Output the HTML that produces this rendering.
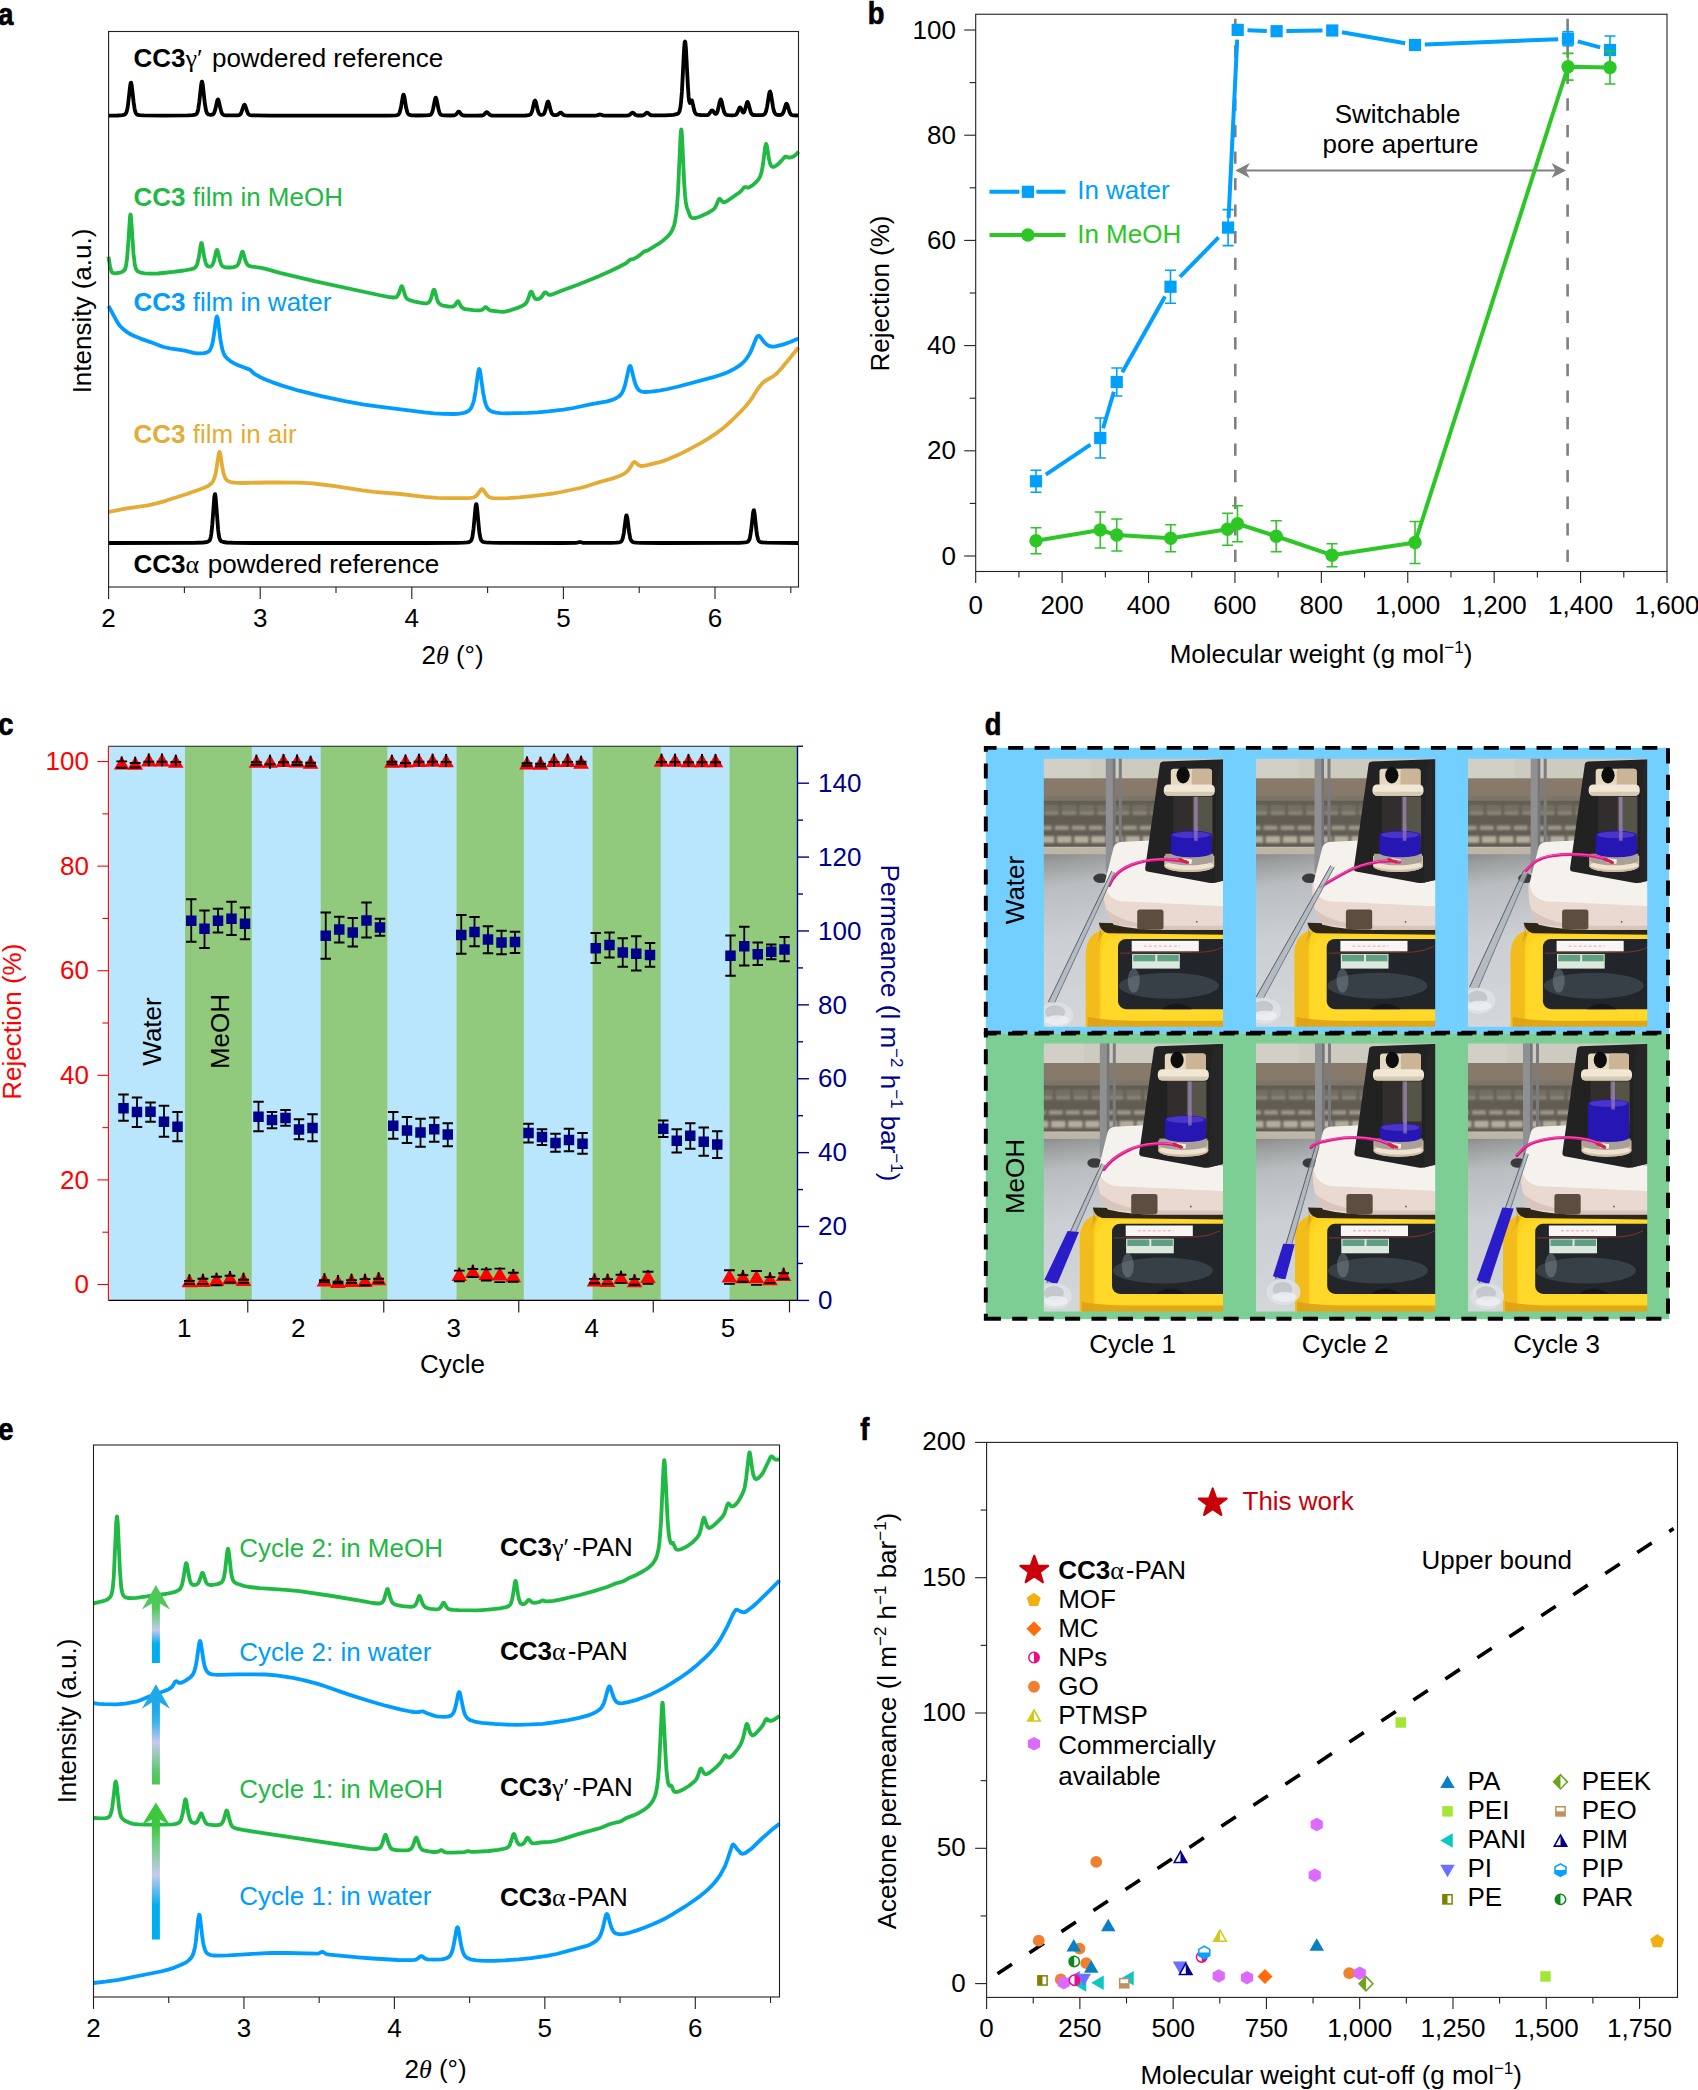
<!DOCTYPE html>
<html lang="en"><head><meta charset="utf-8"><title>Figure</title>
<style>
html,body{margin:0;padding:0;background:#fff;}
body{width:1698px;height:2090px;overflow:hidden;font-family:"Liberation Sans",Arial,Helvetica,sans-serif;}
svg{display:block;}
text{white-space:pre;}
</style></head><body>
<svg width="1698" height="2090" viewBox="0 0 1698 2090">
<rect width="1698" height="2090" fill="#fff"/>
<g id="panel_a">
<path d="M108.6,115.6 117.6,115.5 122.3,115.1 124.6,114.6 125.8,113.5 126.8,111.2 127.6,107.7 128.3,102.3 130.1,86.3 130.6,83.4 130.8,82.8 131.1,82.7 131.3,83.3 131.8,85.9 133.6,101.9 134.6,108.8 135.1,111.0 135.8,113.0 136.6,114.1 137.3,114.6 139.3,115.1 143.6,115.4 162.6,115.6 187.6,115.4 192.6,115.2 195.3,114.7 196.3,114.0 197.1,113.0 197.8,111.0 198.3,108.8 199.3,101.8 201.1,85.3 201.6,82.4 201.8,81.7 202.1,81.7 202.3,82.2 202.8,84.9 204.8,103.4 206.1,110.7 206.8,112.8 207.6,113.9 208.6,114.5 210.3,114.8 212.6,114.5 213.3,114.1 214.1,113.1 215.3,109.4 217.3,100.5 217.8,99.6 218.1,99.5 218.8,101.2 220.6,109.3 221.8,113.1 222.3,113.9 223.1,114.6 224.1,115.1 225.6,115.3 235.8,115.4 238.3,115.3 239.6,114.9 240.6,114.0 241.3,112.7 243.6,105.9 244.1,104.9 244.6,104.7 245.3,105.8 247.1,111.4 248.3,114.0 249.6,115.0 251.8,115.4 270.1,115.7 366.1,115.7 387.9,115.6 395.9,115.3 397.4,115.0 398.4,114.5 399.1,113.6 399.6,112.6 400.9,107.8 402.9,96.0 403.4,94.7 403.6,94.7 404.4,96.9 406.1,107.5 407.4,112.5 408.1,113.9 408.9,114.6 409.9,115.0 411.9,115.3 417.9,115.5 425.6,115.4 429.1,115.2 430.6,114.7 431.6,113.5 432.4,111.7 433.1,108.9 434.9,99.8 435.4,98.1 435.6,97.7 435.9,97.7 436.6,99.6 438.4,108.7 439.6,112.9 440.4,114.2 441.1,114.8 442.1,115.1 443.9,115.3 450.6,115.5 454.4,115.3 455.9,114.6 458.1,111.9 458.9,111.6 459.6,112.1 461.1,114.1 462.1,115.0 463.1,115.4 464.6,115.5 476.6,115.6 482.1,115.5 483.1,115.2 483.9,114.8 486.1,112.4 486.9,112.2 487.6,112.6 489.9,114.9 490.9,115.4 492.1,115.5 518.6,115.6 525.4,115.5 528.6,115.2 530.1,114.6 530.9,113.8 531.4,113.0 532.4,110.0 534.1,102.4 534.6,101.0 535.1,100.6 535.9,102.2 537.6,109.7 538.6,112.7 539.6,114.2 540.4,114.7 541.1,114.9 542.1,114.8 543.1,114.5 543.9,113.8 544.4,113.0 545.4,110.2 547.1,103.2 547.6,101.9 548.1,101.6 548.9,103.1 550.6,110.1 551.6,113.0 552.1,113.9 552.9,114.6 554.6,115.2 556.1,115.2 557.1,115.0 558.1,114.4 559.9,112.8 560.6,112.6 561.4,112.9 562.9,114.4 563.9,115.1 565.1,115.4 567.6,115.6 595.1,115.6 596.9,115.4 599.4,114.6 600.1,114.5 603.1,115.4 604.9,115.6 626.9,115.6 628.4,115.4 629.4,115.0 631.9,112.9 632.6,112.6 633.4,113.0 635.6,115.0 636.6,115.3 637.9,115.5 641.4,115.5 643.1,115.3 644.4,114.7 646.4,112.8 647.1,112.6 647.9,113.0 650.1,114.9 651.9,115.4 664.9,115.4 673.4,114.9 676.6,114.2 677.6,113.8 678.4,113.2 679.1,112.1 679.6,110.9 680.4,107.6 681.1,101.6 681.9,91.9 684.1,48.9 684.6,43.0 684.9,41.7 685.1,41.5 685.4,42.6 685.9,48.1 687.9,86.2 688.6,96.4 689.1,100.5 689.4,101.8 689.9,102.9 690.4,102.6 691.4,100.5 691.6,100.3 691.9,100.4 692.1,100.9 694.4,111.0 695.1,112.9 696.1,114.1 697.6,114.7 700.6,115.0 705.4,115.2 707.6,115.0 708.4,114.7 709.1,114.0 711.4,110.7 712.1,110.3 712.9,110.8 714.9,113.6 715.6,113.9 716.1,113.8 716.9,113.0 717.6,111.2 719.9,101.3 720.4,99.9 720.6,99.5 720.9,99.5 721.6,101.2 723.4,109.3 724.1,111.9 725.1,113.9 726.4,114.8 728.4,115.2 732.1,115.3 734.6,115.1 735.9,114.7 737.1,113.3 739.4,107.9 739.9,107.3 740.1,107.3 740.9,108.2 742.6,112.1 743.1,112.5 743.6,112.5 744.1,111.9 744.9,110.1 746.9,102.8 747.4,102.0 747.6,102.0 748.4,103.4 750.6,111.8 751.4,113.4 752.1,114.4 753.4,115.0 755.6,115.2 760.4,115.2 763.4,114.8 764.1,114.4 764.9,113.8 765.6,112.4 766.1,111.0 767.1,106.6 769.1,94.0 769.6,92.1 769.9,91.7 770.1,91.6 770.9,93.7 772.9,106.3 773.6,109.9 774.6,112.9 775.6,114.2 776.9,114.8 779.1,115.0 780.9,114.9 782.1,114.3 782.9,113.3 783.6,111.7 785.9,104.3 786.4,103.6 786.6,103.6 787.4,104.8 789.6,112.3 790.9,114.4 791.6,114.9 792.9,115.3 798.5,115.5" fill="none" stroke="#000" stroke-width="3.8" stroke-linejoin="round" stroke-linecap="butt" />
<path d="M108.5,256.7 110.0,266.4 111.2,270.6 112.2,272.6 113.5,273.1 115.2,273.3 120.0,272.6 121.8,272.0 123.0,271.4 124.0,270.5 124.8,269.5 125.5,267.7 126.0,265.7 127.0,259.0 128.0,247.2 129.8,219.5 130.2,215.1 130.5,214.5 130.8,215.1 131.2,219.5 133.5,253.9 134.8,264.5 135.8,268.5 136.8,270.3 137.5,271.1 138.5,271.8 141.0,272.7 144.5,273.3 149.5,273.7 153.5,273.7 158.0,273.5 173.5,271.9 184.0,270.5 190.5,269.4 193.8,268.4 195.0,267.6 196.0,266.5 196.8,265.1 197.5,263.0 198.8,257.3 200.8,244.9 201.2,243.2 201.5,243.0 201.8,243.2 202.2,244.8 204.2,256.9 205.5,262.3 206.2,264.3 207.0,265.5 207.8,266.2 208.8,266.6 210.0,266.6 211.0,266.3 212.0,265.4 212.8,264.2 214.0,260.8 216.2,251.2 216.8,250.0 217.0,249.9 217.2,250.0 217.8,251.2 220.0,260.8 220.8,263.1 221.5,264.8 222.5,266.1 223.5,266.8 225.0,267.3 227.0,267.5 230.5,267.5 233.8,267.1 235.8,266.5 237.2,265.5 238.2,264.1 239.0,262.4 241.5,253.5 242.0,252.1 242.5,251.6 242.8,251.7 243.2,252.6 245.2,259.9 246.2,262.6 247.5,264.7 248.2,265.3 249.2,265.9 252.0,266.6 261.2,267.9 264.8,268.6 279.8,272.8 315.5,281.4 381.0,295.5 388.0,296.9 392.8,297.5 394.5,297.5 395.8,297.2 396.8,296.7 397.5,295.9 398.8,293.5 401.0,287.0 401.5,286.2 401.8,286.2 402.2,286.7 402.8,287.9 405.2,295.8 406.2,297.7 407.5,299.1 409.5,300.1 413.5,301.3 419.8,302.7 424.2,303.3 426.2,303.3 427.5,303.1 428.5,302.6 429.5,301.6 430.2,300.3 431.0,298.4 433.2,290.6 433.8,289.7 434.0,289.6 434.2,289.7 434.8,290.7 437.0,299.1 438.2,302.2 439.8,304.1 440.8,304.7 442.2,305.3 445.0,306.0 448.5,306.5 451.2,306.7 453.0,306.5 454.0,306.1 454.8,305.4 457.2,301.7 458.0,301.3 458.8,302.0 460.5,305.5 461.8,307.3 463.2,308.4 465.2,309.1 473.0,310.1 477.5,310.3 480.2,310.3 481.5,310.0 482.5,309.6 485.0,307.4 485.8,307.1 486.5,307.5 489.0,309.8 491.0,310.7 499.8,311.7 502.8,311.8 505.0,311.6 509.0,310.7 517.5,307.9 522.0,306.0 524.8,304.4 526.0,303.2 527.2,301.2 528.2,298.8 530.2,292.7 531.0,291.6 531.2,291.6 531.8,292.0 533.8,296.6 535.0,298.5 536.2,299.2 538.0,299.2 539.5,298.6 541.0,297.5 542.2,296.0 544.2,292.9 545.0,292.3 545.8,292.4 547.8,294.1 549.0,294.8 550.5,294.9 552.2,294.4 562.0,290.5 577.8,284.8 587.8,280.8 598.2,276.4 610.0,271.2 618.8,267.0 625.0,263.8 627.0,262.5 630.0,259.7 633.2,259.1 636.8,257.2 640.2,254.9 643.8,251.6 646.5,250.9 648.2,250.2 658.0,244.2 663.5,240.2 667.8,236.3 669.5,234.4 671.0,232.3 672.2,230.1 673.2,227.8 674.2,224.8 675.0,221.8 676.2,214.0 677.2,203.5 678.0,192.1 680.5,136.7 681.0,130.5 681.2,129.5 681.5,130.1 682.0,135.6 684.2,183.1 685.0,194.4 685.8,202.0 686.8,207.4 688.2,210.9 689.8,215.4 690.2,216.4 691.0,217.4 692.5,218.1 694.0,218.2 695.5,218.0 699.5,216.8 707.8,213.0 712.2,210.4 714.0,208.9 715.2,207.3 716.5,204.8 718.5,199.9 719.2,198.8 720.0,198.9 722.0,201.3 723.0,202.1 724.2,202.3 725.5,201.9 728.2,200.3 739.8,192.2 741.2,190.9 744.2,187.3 745.2,187.0 747.8,187.6 749.5,187.1 752.8,185.1 756.2,182.0 758.0,180.0 759.5,177.7 760.5,175.6 761.5,172.3 763.0,164.4 765.2,146.7 766.0,143.9 766.2,144.0 766.8,145.4 768.8,157.9 769.8,162.5 771.0,165.7 771.8,166.5 772.5,166.9 773.5,166.9 774.8,166.5 777.5,164.7 779.2,163.1 785.0,156.7 786.0,156.6 788.8,157.6 790.5,157.5 792.0,157.1 793.8,156.3 795.2,155.2 797.0,153.6 798.5,151.8" fill="none" stroke="#1fb944" stroke-width="3.8" stroke-linejoin="round" stroke-linecap="butt" />
<path d="M108.5,306.0 117.2,321.9 119.5,325.4 122.0,328.0 124.8,330.4 127.8,332.6 131.0,334.5 134.8,336.3 140.5,338.6 150.5,342.1 159.5,345.6 163.5,347.0 169.8,348.3 184.8,350.6 193.5,352.8 196.8,353.4 201.8,353.4 204.2,353.1 206.2,352.6 207.8,352.0 208.8,351.3 209.8,350.3 210.5,349.1 211.8,345.9 212.8,341.9 214.0,334.4 216.0,319.5 216.5,317.2 216.8,316.6 217.0,316.5 217.5,317.5 218.0,320.1 220.2,338.1 221.8,347.0 222.5,350.0 223.5,353.0 224.5,355.1 225.5,356.6 226.8,358.1 228.5,359.6 231.2,361.7 233.8,363.2 238.8,365.5 249.2,369.4 250.5,370.2 253.5,373.1 255.0,374.2 260.0,377.0 265.2,379.5 272.0,382.1 282.0,385.6 299.0,390.7 321.2,396.2 344.8,401.2 364.0,404.6 386.8,407.7 424.5,412.4 434.2,413.3 443.2,413.8 454.0,414.0 458.0,413.8 461.2,413.4 464.2,412.8 466.8,411.9 468.8,410.7 470.2,409.2 471.2,407.8 472.2,405.7 473.2,402.8 474.0,399.9 475.5,391.6 478.0,373.2 478.8,369.7 479.2,369.0 479.8,369.7 480.2,371.8 483.2,393.2 485.0,401.8 486.0,404.9 487.2,407.6 488.5,409.3 490.2,410.7 492.8,411.8 496.0,412.6 500.2,413.1 505.8,413.3 516.2,413.2 527.5,412.9 537.8,412.3 548.2,411.4 563.5,409.7 573.5,408.0 591.5,404.2 607.2,401.3 612.2,399.9 616.5,398.0 618.8,396.5 620.5,394.9 622.0,392.8 623.2,390.4 624.5,386.9 625.5,383.3 628.8,368.5 629.5,366.5 630.0,365.9 630.5,366.2 631.2,368.0 634.0,379.4 635.5,384.4 637.2,388.1 639.0,390.2 640.2,391.0 641.5,391.5 643.2,391.9 645.2,392.0 651.0,391.7 659.2,390.6 667.8,389.0 678.5,386.5 713.5,377.1 719.5,375.3 724.8,373.4 729.2,371.5 733.5,369.3 737.5,366.9 741.0,364.4 743.8,361.9 746.5,358.6 748.8,355.2 750.8,351.5 756.2,338.3 757.2,336.6 758.2,335.9 759.2,336.0 760.2,336.8 764.2,342.2 766.5,344.4 769.0,345.9 772.0,346.6 774.0,346.6 776.5,346.2 782.8,344.6 790.2,342.0 798.5,338.5" fill="none" stroke="#009cff" stroke-width="3.8" stroke-linejoin="round" stroke-linecap="butt" />
<path d="M108.5,512.0 125.5,508.6 147.8,505.4 156.5,503.4 165.8,500.8 186.0,494.3 201.0,489.0 204.8,487.5 207.8,486.1 210.0,484.6 211.8,483.0 213.0,481.3 214.2,478.5 215.8,472.9 218.5,455.2 219.0,452.9 219.5,452.0 220.0,452.8 220.5,455.0 222.2,466.5 223.2,471.9 224.0,474.8 225.0,477.5 226.2,479.6 228.0,481.1 230.5,482.1 234.0,482.7 242.5,483.0 266.2,482.5 278.5,482.4 296.8,482.7 309.8,483.2 317.8,484.0 334.8,486.1 362.5,490.4 373.8,491.8 400.5,494.0 424.2,496.9 437.0,497.8 449.8,498.2 466.5,498.2 470.8,497.9 473.2,497.5 475.0,496.7 476.5,495.6 478.0,493.8 480.8,489.8 481.5,489.1 482.0,489.0 482.5,489.1 483.2,489.8 487.0,495.2 488.0,496.2 489.2,497.1 490.8,497.7 492.8,498.1 499.2,498.4 508.0,498.1 519.2,497.3 531.8,496.1 544.5,494.7 552.8,493.5 561.5,492.0 580.0,488.0 586.5,486.3 600.0,481.9 613.8,478.1 618.2,476.5 622.2,474.8 625.5,472.9 627.8,470.9 629.8,468.2 632.8,463.2 634.0,462.0 634.5,461.9 635.2,462.2 638.0,464.6 639.5,465.5 641.0,466.0 643.0,466.0 647.2,465.2 657.5,462.7 663.0,461.1 668.0,459.3 677.8,455.1 689.5,449.2 700.8,443.1 710.2,437.4 718.0,432.1 724.0,427.4 731.2,421.0 739.2,413.2 745.0,407.0 750.0,401.0 752.2,397.8 758.2,388.3 761.8,383.9 763.2,382.4 765.0,381.0 773.2,376.3 775.2,374.8 777.2,373.0 781.8,368.0 798.5,347.5" fill="none" stroke="#e5ac35" stroke-width="3.8" stroke-linejoin="round" stroke-linecap="butt" />
<path d="M108.6,543.0 193.3,542.8 203.3,542.5 206.1,542.2 208.1,541.6 209.3,540.7 210.1,539.4 210.8,536.9 211.3,534.0 212.3,524.5 214.3,497.2 214.8,494.2 215.1,494.1 215.3,495.0 215.8,499.3 218.1,529.4 218.6,533.6 219.3,537.7 220.1,539.9 220.6,540.6 221.3,541.3 223.3,542.0 226.6,542.5 235.1,542.8 253.6,543.0 425.1,543.0 457.4,542.8 463.6,542.7 467.6,542.3 469.6,541.8 470.9,540.9 471.6,539.6 472.4,537.1 473.6,528.2 475.6,506.5 476.1,504.1 476.4,504.1 476.6,504.8 477.1,508.2 479.1,530.1 479.6,534.0 480.4,537.9 481.1,540.1 482.1,541.3 483.4,542.0 485.6,542.4 490.9,542.7 500.6,542.9 562.1,543.0 575.6,542.9 577.1,542.7 579.9,542.0 583.4,542.8 586.4,542.9 610.6,542.8 615.9,542.7 619.1,542.3 620.4,542.0 621.4,541.3 622.1,540.1 622.9,537.9 623.9,532.5 625.9,517.1 626.4,515.3 626.6,515.3 627.4,518.2 629.1,532.1 630.1,537.7 630.6,539.4 631.4,540.9 632.4,541.8 633.6,542.3 636.4,542.6 641.1,542.8 662.4,543.0 729.4,542.9 739.6,542.8 744.9,542.4 746.9,542.1 748.1,541.5 749.1,540.2 749.9,538.0 751.1,530.6 753.1,512.4 753.6,510.4 753.9,510.3 754.1,510.9 754.6,513.8 756.4,530.2 757.1,535.4 758.1,539.5 758.6,540.5 759.4,541.4 760.4,542.0 761.6,542.3 766.9,542.7 798.5,543.0" fill="none" stroke="#000" stroke-width="3.8" stroke-linejoin="round" stroke-linecap="butt" />
<rect x="108.6" y="31.5" width="689.9" height="555.5" fill="none" stroke="#231f20" stroke-width="1.1"/>
<line x1="108.6" y1="587.0" x2="108.6" y2="599.0" stroke="#231f20" stroke-width="1.1" />
<text x="108.6" y="627" font-size="26" text-anchor="middle" fill="#000" font-weight="normal" font-family='"Liberation Sans", Arial, Helvetica, sans-serif' >2</text>
<line x1="260.2" y1="587.0" x2="260.2" y2="599.0" stroke="#231f20" stroke-width="1.1" />
<text x="260.2" y="627" font-size="26" text-anchor="middle" fill="#000" font-weight="normal" font-family='"Liberation Sans", Arial, Helvetica, sans-serif' >3</text>
<line x1="411.79999999999995" y1="587.0" x2="411.79999999999995" y2="599.0" stroke="#231f20" stroke-width="1.1" />
<text x="411.8" y="627" font-size="26" text-anchor="middle" fill="#000" font-weight="normal" font-family='"Liberation Sans", Arial, Helvetica, sans-serif' >4</text>
<line x1="563.4" y1="587.0" x2="563.4" y2="599.0" stroke="#231f20" stroke-width="1.1" />
<text x="563.4" y="627" font-size="26" text-anchor="middle" fill="#000" font-weight="normal" font-family='"Liberation Sans", Arial, Helvetica, sans-serif' >5</text>
<line x1="715.0" y1="587.0" x2="715.0" y2="599.0" stroke="#231f20" stroke-width="1.1" />
<text x="715.0" y="627" font-size="26" text-anchor="middle" fill="#000" font-weight="normal" font-family='"Liberation Sans", Arial, Helvetica, sans-serif' >6</text>
<line x1="184.39999999999998" y1="587.0" x2="184.39999999999998" y2="593.0" stroke="#231f20" stroke-width="1.1" />
<line x1="336.0" y1="587.0" x2="336.0" y2="593.0" stroke="#231f20" stroke-width="1.1" />
<line x1="487.6" y1="587.0" x2="487.6" y2="593.0" stroke="#231f20" stroke-width="1.1" />
<line x1="639.2" y1="587.0" x2="639.2" y2="593.0" stroke="#231f20" stroke-width="1.1" />
<line x1="790.8" y1="587.0" x2="790.8" y2="593.0" stroke="#231f20" stroke-width="1.1" />
<text x="133.5" y="67" font-size="26" text-anchor="start" fill="#000" font-weight="normal" font-family='"Liberation Sans", Arial, Helvetica, sans-serif' ><tspan font-weight="bold">CC3</tspan><tspan font-family='"Liberation Serif", "DejaVu Serif", serif' font-weight="normal">γ′</tspan><tspan dx="2"> powdered reference</tspan></text>
<text x="133.5" y="206" font-size="26" text-anchor="start" fill="#1fb944" font-weight="normal" font-family='"Liberation Sans", Arial, Helvetica, sans-serif' ><tspan font-weight="bold">CC3</tspan> film in MeOH</text>
<text x="133.5" y="311" font-size="26" text-anchor="start" fill="#009cff" font-weight="normal" font-family='"Liberation Sans", Arial, Helvetica, sans-serif' ><tspan font-weight="bold">CC3</tspan> film in water</text>
<text x="133.5" y="443" font-size="26" text-anchor="start" fill="#e5ac35" font-weight="normal" font-family='"Liberation Sans", Arial, Helvetica, sans-serif' ><tspan font-weight="bold">CC3</tspan> film in air</text>
<text x="133.5" y="573" font-size="26" text-anchor="start" fill="#000" font-weight="normal" font-family='"Liberation Sans", Arial, Helvetica, sans-serif' ><tspan font-weight="bold">CC3</tspan><tspan font-family='"Liberation Serif", "DejaVu Serif", serif' font-weight="normal">α</tspan><tspan dx="1.5"> powdered reference</tspan></text>
<text transform="translate(91,311) rotate(-90)" font-size="26" text-anchor="middle" fill="#000" font-family='"Liberation Sans", Arial, Helvetica, sans-serif' >Intensity (a.u.)</text>
<text x="452.5" y="664.2" font-size="26" text-anchor="middle" fill="#000" font-weight="normal" font-family='"Liberation Sans", Arial, Helvetica, sans-serif' >2<tspan font-family='"Liberation Serif", "DejaVu Serif", serif' font-style="italic">θ</tspan> (°)</text>
<text transform="translate(-1.8,24.5) scale(0.88,1)" font-size="31" font-weight="bold" stroke="#000" stroke-width="0.7" font-family='"Liberation Sans", Arial, Helvetica, sans-serif'>a</text>
</g>
<g id="panel_b">
<line x1="1235.3" y1="18.7" x2="1235.3" y2="563.8" stroke="#808080" stroke-width="2.6" stroke-dasharray="12.3 14.25"/>
<line x1="1567.6" y1="18.7" x2="1567.6" y2="563.8" stroke="#808080" stroke-width="2.6" stroke-dasharray="12.3 14.25"/>
<line x1="1244" y1="170.5" x2="1557" y2="170.5" stroke="#808080" stroke-width="2"/>
<path d="M1235.3,170.5 l14.5,-7.6 l-4,7.6 l4,7.6z" fill="#808080"/>
<path d="M1566,170.5 l-14.5,-7.6 l4,7.6 l-4,7.6z" fill="#808080"/>
<line x1="1045.8" y1="474.7" x2="1090.5" y2="444.6" stroke="#00a0fc" stroke-width="4"/>
<line x1="1103.1" y1="428.2" x2="1113.9" y2="391.8" stroke="#00a0fc" stroke-width="4"/>
<line x1="1122.3" y1="372.2" x2="1165.0" y2="296.6" stroke="#00a0fc" stroke-width="4"/>
<line x1="1180.0" y1="276.9" x2="1218.6" y2="237.4" stroke="#00a0fc" stroke-width="4"/>
<line x1="1228.6" y1="217.8" x2="1237.2" y2="39.7" stroke="#00a0fc" stroke-width="4"/>
<line x1="1247.5" y1="30.2" x2="1266.8" y2="30.9" stroke="#00a0fc" stroke-width="4"/>
<line x1="1286.4" y1="31.1" x2="1322.5" y2="30.6" stroke="#00a0fc" stroke-width="4"/>
<line x1="1342.0" y1="32.2" x2="1405.2" y2="43.3" stroke="#00a0fc" stroke-width="4"/>
<line x1="1424.8" y1="44.6" x2="1558.2" y2="39.2" stroke="#00a0fc" stroke-width="4"/>
<line x1="1577.8" y1="41.4" x2="1600.2" y2="47.4" stroke="#00a0fc" stroke-width="4"/>
<path d="M1036,470.25V492.25M1030.5,470.25h11M1030.5,492.25h11" stroke="#00a0fc" stroke-width="1.6" fill="none"/>
<path d="M1100.25,418V458M1094.75,418h11M1094.75,458h11" stroke="#00a0fc" stroke-width="1.6" fill="none"/>
<path d="M1116.75,368V396M1111.25,368h11M1111.25,396h11" stroke="#00a0fc" stroke-width="1.6" fill="none"/>
<path d="M1170.5,270.25V303.25M1165.0,270.25h11M1165.0,303.25h11" stroke="#00a0fc" stroke-width="1.6" fill="none"/>
<path d="M1228.1,209.6V245.6M1222.6,209.6h11M1222.6,245.6h11" stroke="#00a0fc" stroke-width="1.6" fill="none"/>




<path d="M1568,31.75V45.75M1562.5,31.75h11M1562.5,45.75h11" stroke="#00a0fc" stroke-width="1.6" fill="none"/>
<path d="M1610,36V64M1604.5,36h11M1604.5,64h11" stroke="#00a0fc" stroke-width="1.6" fill="none"/>
<rect x="1029.9" y="475.15" width="12.2" height="12.2" fill="#00a0fc"/>
<rect x="1094.15" y="431.9" width="12.2" height="12.2" fill="#00a0fc"/>
<rect x="1110.65" y="375.9" width="12.2" height="12.2" fill="#00a0fc"/>
<rect x="1164.4" y="280.65" width="12.2" height="12.2" fill="#00a0fc"/>
<rect x="1222.0" y="221.5" width="12.2" height="12.2" fill="#00a0fc"/>
<rect x="1231.6000000000001" y="23.799999999999997" width="12.2" height="12.2" fill="#00a0fc"/>
<rect x="1270.5" y="25.1" width="12.2" height="12.2" fill="#00a0fc"/>
<rect x="1326.15" y="24.4" width="12.2" height="12.2" fill="#00a0fc"/>
<rect x="1408.9" y="38.9" width="12.2" height="12.2" fill="#00a0fc"/>
<rect x="1561.9" y="32.65" width="12.2" height="12.2" fill="#00a0fc"/>
<rect x="1603.9" y="43.9" width="12.2" height="12.2" fill="#00a0fc"/>
<polyline points="1036,540.75 1100.25,530 1116.75,535 1170.75,538.25 1227.5,529.25 1237.5,523.75 1276.25,536.25 1332,555.2 1415,542.5 1568,66.75 1610,67.5" fill="none" stroke="#2cc625" stroke-width="4" stroke-linejoin="round"/>
<path d="M1036,527.75V553.75M1030.5,527.75h11M1030.5,553.75h11" stroke="#2cc625" stroke-width="1.6" fill="none"/>
<path d="M1100.25,512V548M1094.75,512h11M1094.75,548h11" stroke="#2cc625" stroke-width="1.6" fill="none"/>
<path d="M1116.75,519V551M1111.25,519h11M1111.25,551h11" stroke="#2cc625" stroke-width="1.6" fill="none"/>
<path d="M1170.75,524.75V551.75M1165.25,524.75h11M1165.25,551.75h11" stroke="#2cc625" stroke-width="1.6" fill="none"/>
<path d="M1227.5,513.25V545.25M1222.0,513.25h11M1222.0,545.25h11" stroke="#2cc625" stroke-width="1.6" fill="none"/>
<path d="M1237.5,505.75V541.75M1232.0,505.75h11M1232.0,541.75h11" stroke="#2cc625" stroke-width="1.6" fill="none"/>
<path d="M1276.25,520.75V551.75M1270.75,520.75h11M1270.75,551.75h11" stroke="#2cc625" stroke-width="1.6" fill="none"/>
<path d="M1332,543.7V566.7M1326.5,543.7h11M1326.5,566.7h11" stroke="#2cc625" stroke-width="1.6" fill="none"/>
<path d="M1415,521.5V563.5M1409.5,521.5h11M1409.5,563.5h11" stroke="#2cc625" stroke-width="1.6" fill="none"/>
<path d="M1568,53.35V80.15M1562.5,53.35h11M1562.5,80.15h11" stroke="#2cc625" stroke-width="1.6" fill="none"/>
<path d="M1610,51.0V84.0M1604.5,51.0h11M1604.5,84.0h11" stroke="#2cc625" stroke-width="1.6" fill="none"/>
<circle cx="1036" cy="540.75" r="6.7" fill="#2cc625"/>
<circle cx="1100.25" cy="530" r="6.7" fill="#2cc625"/>
<circle cx="1116.75" cy="535" r="6.7" fill="#2cc625"/>
<circle cx="1170.75" cy="538.25" r="6.7" fill="#2cc625"/>
<circle cx="1227.5" cy="529.25" r="6.7" fill="#2cc625"/>
<circle cx="1237.5" cy="523.75" r="6.7" fill="#2cc625"/>
<circle cx="1276.25" cy="536.25" r="6.7" fill="#2cc625"/>
<circle cx="1332" cy="555.2" r="6.7" fill="#2cc625"/>
<circle cx="1415" cy="542.5" r="6.7" fill="#2cc625"/>
<circle cx="1568" cy="66.75" r="6.7" fill="#2cc625"/>
<circle cx="1610" cy="67.5" r="6.7" fill="#2cc625"/>
<rect x="975.7" y="14.25" width="691.3" height="557.25" fill="none" stroke="#231f20" stroke-width="1.1"/>
<line x1="975.7" y1="571.5" x2="975.7" y2="583.0" stroke="#231f20" stroke-width="1.1" />
<text x="975.7" y="613.5" font-size="26" text-anchor="middle" fill="#000" font-weight="normal" font-family='"Liberation Sans", Arial, Helvetica, sans-serif' >0</text>
<line x1="1018.91" y1="571.5" x2="1018.91" y2="577.5" stroke="#231f20" stroke-width="1.1" />
<line x1="1062.11" y1="571.5" x2="1062.11" y2="583.0" stroke="#231f20" stroke-width="1.1" />
<text x="1062.1" y="613.5" font-size="26" text-anchor="middle" fill="#000" font-weight="normal" font-family='"Liberation Sans", Arial, Helvetica, sans-serif' >200</text>
<line x1="1105.32" y1="571.5" x2="1105.32" y2="577.5" stroke="#231f20" stroke-width="1.1" />
<line x1="1148.52" y1="571.5" x2="1148.52" y2="583.0" stroke="#231f20" stroke-width="1.1" />
<text x="1148.5" y="613.5" font-size="26" text-anchor="middle" fill="#000" font-weight="normal" font-family='"Liberation Sans", Arial, Helvetica, sans-serif' >400</text>
<line x1="1191.73" y1="571.5" x2="1191.73" y2="577.5" stroke="#231f20" stroke-width="1.1" />
<line x1="1234.94" y1="571.5" x2="1234.94" y2="583.0" stroke="#231f20" stroke-width="1.1" />
<text x="1234.9" y="613.5" font-size="26" text-anchor="middle" fill="#000" font-weight="normal" font-family='"Liberation Sans", Arial, Helvetica, sans-serif' >600</text>
<line x1="1278.14" y1="571.5" x2="1278.14" y2="577.5" stroke="#231f20" stroke-width="1.1" />
<line x1="1321.35" y1="571.5" x2="1321.35" y2="583.0" stroke="#231f20" stroke-width="1.1" />
<text x="1321.3" y="613.5" font-size="26" text-anchor="middle" fill="#000" font-weight="normal" font-family='"Liberation Sans", Arial, Helvetica, sans-serif' >800</text>
<line x1="1364.55" y1="571.5" x2="1364.55" y2="577.5" stroke="#231f20" stroke-width="1.1" />
<line x1="1407.76" y1="571.5" x2="1407.76" y2="583.0" stroke="#231f20" stroke-width="1.1" />
<text x="1407.8" y="613.5" font-size="26" text-anchor="middle" fill="#000" font-weight="normal" font-family='"Liberation Sans", Arial, Helvetica, sans-serif' >1,000</text>
<line x1="1450.97" y1="571.5" x2="1450.97" y2="577.5" stroke="#231f20" stroke-width="1.1" />
<line x1="1494.17" y1="571.5" x2="1494.17" y2="583.0" stroke="#231f20" stroke-width="1.1" />
<text x="1494.2" y="613.5" font-size="26" text-anchor="middle" fill="#000" font-weight="normal" font-family='"Liberation Sans", Arial, Helvetica, sans-serif' >1,200</text>
<line x1="1537.38" y1="571.5" x2="1537.38" y2="577.5" stroke="#231f20" stroke-width="1.1" />
<line x1="1580.58" y1="571.5" x2="1580.58" y2="583.0" stroke="#231f20" stroke-width="1.1" />
<text x="1580.6" y="613.5" font-size="26" text-anchor="middle" fill="#000" font-weight="normal" font-family='"Liberation Sans", Arial, Helvetica, sans-serif' >1,400</text>
<line x1="1623.79" y1="571.5" x2="1623.79" y2="577.5" stroke="#231f20" stroke-width="1.1" />
<line x1="1667.0" y1="571.5" x2="1667.0" y2="583.0" stroke="#231f20" stroke-width="1.1" />
<text x="1667.0" y="613.5" font-size="26" text-anchor="middle" fill="#000" font-weight="normal" font-family='"Liberation Sans", Arial, Helvetica, sans-serif' >1,600</text>
<line x1="964.2" y1="556.0" x2="975.7" y2="556.0" stroke="#231f20" stroke-width="1.1" />
<text x="956" y="564.6" font-size="26" text-anchor="end" fill="#000" font-weight="normal" font-family='"Liberation Sans", Arial, Helvetica, sans-serif' >0</text>
<line x1="969.7" y1="503.4" x2="975.7" y2="503.4" stroke="#231f20" stroke-width="1.1" />
<line x1="964.2" y1="450.8" x2="975.7" y2="450.8" stroke="#231f20" stroke-width="1.1" />
<text x="956" y="459.4" font-size="26" text-anchor="end" fill="#000" font-weight="normal" font-family='"Liberation Sans", Arial, Helvetica, sans-serif' >20</text>
<line x1="969.7" y1="398.20000000000005" x2="975.7" y2="398.20000000000005" stroke="#231f20" stroke-width="1.1" />
<line x1="964.2" y1="345.6" x2="975.7" y2="345.6" stroke="#231f20" stroke-width="1.1" />
<text x="956" y="354.2" font-size="26" text-anchor="end" fill="#000" font-weight="normal" font-family='"Liberation Sans", Arial, Helvetica, sans-serif' >40</text>
<line x1="969.7" y1="293.0" x2="975.7" y2="293.0" stroke="#231f20" stroke-width="1.1" />
<line x1="964.2" y1="240.40000000000003" x2="975.7" y2="240.40000000000003" stroke="#231f20" stroke-width="1.1" />
<text x="956" y="249.0" font-size="26" text-anchor="end" fill="#000" font-weight="normal" font-family='"Liberation Sans", Arial, Helvetica, sans-serif' >60</text>
<line x1="969.7" y1="187.8" x2="975.7" y2="187.8" stroke="#231f20" stroke-width="1.1" />
<line x1="964.2" y1="135.20000000000005" x2="975.7" y2="135.20000000000005" stroke="#231f20" stroke-width="1.1" />
<text x="956" y="143.8" font-size="26" text-anchor="end" fill="#000" font-weight="normal" font-family='"Liberation Sans", Arial, Helvetica, sans-serif' >80</text>
<line x1="969.7" y1="82.60000000000002" x2="975.7" y2="82.60000000000002" stroke="#231f20" stroke-width="1.1" />
<line x1="964.2" y1="30.0" x2="975.7" y2="30.0" stroke="#231f20" stroke-width="1.1" />
<text x="956" y="38.6" font-size="26" text-anchor="end" fill="#000" font-weight="normal" font-family='"Liberation Sans", Arial, Helvetica, sans-serif' >100</text>
<path d="M989.5,191.8H1019.4M1036.4,191.8H1065.5" stroke="#00a0fc" stroke-width="3.9"/>
<rect x="1021.8" y="185.7" width="12.2" height="12.2" fill="#00a0fc"/>
<text x="1077.2" y="199.25" font-size="26" text-anchor="start" fill="#00a0fc" font-weight="normal" font-family='"Liberation Sans", Arial, Helvetica, sans-serif' >In water</text>
<path d="M989.5,235H1065.5" stroke="#2cc625" stroke-width="3.9"/>
<circle cx="1027.9" cy="235" r="6.7" fill="#2cc625"/>
<text x="1077.2" y="242.5" font-size="26" text-anchor="start" fill="#2cc625" font-weight="normal" font-family='"Liberation Sans", Arial, Helvetica, sans-serif' >In MeOH</text>
<text x="1397.5" y="122.5" font-size="26" text-anchor="middle" fill="#000" font-weight="normal" font-family='"Liberation Sans", Arial, Helvetica, sans-serif' >Switchable</text>
<text x="1400.5" y="153" font-size="26" text-anchor="middle" fill="#000" font-weight="normal" font-family='"Liberation Sans", Arial, Helvetica, sans-serif' >pore aperture</text>
<text x="1321" y="663" font-size="26" text-anchor="middle" fill="#000" font-weight="normal" font-family='"Liberation Sans", Arial, Helvetica, sans-serif' >Molecular weight (g mol<tspan dy="-10" font-size="17">−1</tspan><tspan dy="10">)</tspan></text>
<text transform="translate(889,293.5) rotate(-90)" font-size="26" text-anchor="middle" fill="#000" font-family='"Liberation Sans", Arial, Helvetica, sans-serif' >Rejection (%)</text>
<text transform="translate(867.7,23.75) scale(0.88,1)" font-size="31" font-weight="bold" stroke="#000" stroke-width="0.7" font-family='"Liberation Sans", Arial, Helvetica, sans-serif'>b</text>
</g>
<g id="panel_c">
<rect x="108.4" y="746.25" width="76.89999999999999" height="554.1500000000001" fill="#b9e5fd"/>
<rect x="185" y="746.25" width="67.05" height="554.1500000000001" fill="#91c97d"/>
<rect x="251.75" y="746.25" width="69.3" height="554.1500000000001" fill="#b9e5fd"/>
<rect x="320.75" y="746.25" width="67.05" height="554.1500000000001" fill="#91c97d"/>
<rect x="387.5" y="746.25" width="69.3" height="554.1500000000001" fill="#b9e5fd"/>
<rect x="456.5" y="746.25" width="67.55" height="554.1500000000001" fill="#91c97d"/>
<rect x="523.75" y="746.25" width="69.05" height="554.1500000000001" fill="#b9e5fd"/>
<rect x="592.5" y="746.25" width="68.55" height="554.1500000000001" fill="#91c97d"/>
<rect x="660.75" y="746.25" width="69.05" height="554.1500000000001" fill="#b9e5fd"/>
<rect x="729.5" y="746.25" width="68.3" height="554.1500000000001" fill="#91c97d"/>
<path d="M121.7,756L129.5,769.6H113.9Z" fill="#ff0000"/>
<path d="M135.2,756.25L143.0,769.85H127.39999999999999Z" fill="#ff0000"/>
<path d="M148.8,752.9L156.60000000000002,766.5H141.0Z" fill="#ff0000"/>
<path d="M162,752.9L169.8,766.5H154.2Z" fill="#ff0000"/>
<path d="M175.8,754.2L183.60000000000002,767.8000000000001H168.0Z" fill="#ff0000"/>
<path d="M256.4,754.2L264.2,767.8000000000001H248.59999999999997Z" fill="#ff0000"/>
<path d="M270,754.2L277.8,767.8000000000001H262.2Z" fill="#ff0000"/>
<path d="M283.5,753.5L291.3,767.1H275.7Z" fill="#ff0000"/>
<path d="M297.1,754L304.90000000000003,767.6H289.3Z" fill="#ff0000"/>
<path d="M310.6,755.2L318.40000000000003,768.8000000000001H302.8Z" fill="#ff0000"/>
<path d="M391.9,754.2L399.7,767.8000000000001H384.09999999999997Z" fill="#ff0000"/>
<path d="M405.5,754L413.3,767.6H397.7Z" fill="#ff0000"/>
<path d="M419,753.3L426.8,766.9H411.2Z" fill="#ff0000"/>
<path d="M432.6,753.2L440.40000000000003,766.8000000000001H424.8Z" fill="#ff0000"/>
<path d="M446.1,753.6L453.90000000000003,767.2H438.3Z" fill="#ff0000"/>
<path d="M527,756L534.8,769.6H519.2Z" fill="#ff0000"/>
<path d="M540.5,756.25L548.3,769.85H532.7Z" fill="#ff0000"/>
<path d="M554,753.3L561.8,766.9H546.2Z" fill="#ff0000"/>
<path d="M567.6,753.3L575.4,766.9H559.8000000000001Z" fill="#ff0000"/>
<path d="M581.1,755.2L588.9,768.8000000000001H573.3000000000001Z" fill="#ff0000"/>
<path d="M661.5,753.2L669.3,766.8000000000001H653.7Z" fill="#ff0000"/>
<path d="M675,753.2L682.8,766.8000000000001H667.2Z" fill="#ff0000"/>
<path d="M688.5,753.6L696.3,767.2H680.7Z" fill="#ff0000"/>
<path d="M702,753.6L709.8,767.2H694.2Z" fill="#ff0000"/>
<path d="M715.5,753.6L723.3,767.2H707.7Z" fill="#ff0000"/>
<path d="M189.4,1273.7L197.20000000000002,1287.3H181.6Z" fill="#ff0000"/>
<path d="M202.9,1273.3L210.70000000000002,1286.8999999999999H195.1Z" fill="#ff0000"/>
<path d="M216.5,1272.3L224.3,1285.8999999999999H208.7Z" fill="#ff0000"/>
<path d="M230,1270.6L237.8,1284.1999999999998H222.2Z" fill="#ff0000"/>
<path d="M243.5,1272.3L251.3,1285.8999999999999H235.7Z" fill="#ff0000"/>
<path d="M324.4,1272.8L332.2,1286.3999999999999H316.59999999999997Z" fill="#ff0000"/>
<path d="M338,1274.4L345.8,1288.0H330.2Z" fill="#ff0000"/>
<path d="M351.5,1273.3L359.3,1286.8999999999999H343.7Z" fill="#ff0000"/>
<path d="M365,1273.3L372.8,1286.8999999999999H357.2Z" fill="#ff0000"/>
<path d="M378.6,1271.7L386.40000000000003,1285.3H370.8Z" fill="#ff0000"/>
<path d="M459.3,1267.3L467.1,1280.8999999999999H451.5Z" fill="#ff0000"/>
<path d="M472.8,1264.2L480.6,1277.8H465.0Z" fill="#ff0000"/>
<path d="M486.3,1266.5L494.1,1280.1H478.5Z" fill="#ff0000"/>
<path d="M499.8,1267L507.6,1280.6H492.0Z" fill="#ff0000"/>
<path d="M513.3,1268.6L521.0999999999999,1282.1999999999998H505.49999999999994Z" fill="#ff0000"/>
<path d="M594.5,1273L602.3,1286.6H586.7Z" fill="#ff0000"/>
<path d="M607.6,1273.3L615.4,1286.8999999999999H599.8000000000001Z" fill="#ff0000"/>
<path d="M621,1270.3L628.8,1283.8999999999999H613.2Z" fill="#ff0000"/>
<path d="M634.5,1273.7L642.3,1287.3H626.7Z" fill="#ff0000"/>
<path d="M648,1269.4L655.8,1283.0H640.2Z" fill="#ff0000"/>
<path d="M729.4,1269L737.1999999999999,1282.6H721.6Z" fill="#ff0000"/>
<path d="M742.9,1269.6L750.6999999999999,1283.1999999999998H735.1Z" fill="#ff0000"/>
<path d="M756.5,1269.6L764.3,1283.1999999999998H748.7Z" fill="#ff0000"/>
<path d="M770,1271.7L777.8,1285.3H762.2Z" fill="#ff0000"/>
<path d="M783.6,1267.3L791.4,1280.8999999999999H775.8000000000001Z" fill="#ff0000"/>
<path d="M121.7,756.5V761.4M116.3,761.4h10.8M116.3,767.8h10.8" stroke="#000" stroke-width="1.9" fill="none"/>
<path d="M135.2,756.75V763M129.79999999999998,763h10.8M129.79999999999998,767.5h10.8" stroke="#000" stroke-width="1.9" fill="none"/>
<path d="M148.8,753.4V766.2M143.4,761.7h10.8" stroke="#000" stroke-width="1.9" fill="none"/>
<path d="M162,753.4V766.2M156.6,761.7h10.8" stroke="#000" stroke-width="1.9" fill="none"/>
<path d="M175.8,754.7V766.5M170.4,762h10.8" stroke="#000" stroke-width="1.9" fill="none"/>
<path d="M256.4,754.7V762.1M250.99999999999997,762.1h10.8M250.99999999999997,764.8h10.8" stroke="#000" stroke-width="1.9" fill="none"/>
<path d="M270,754.7V768.7M264.6,764.2h10.8" stroke="#000" stroke-width="1.9" fill="none"/>
<path d="M283.5,754.0V766.8M278.1,762.3h10.8" stroke="#000" stroke-width="1.9" fill="none"/>
<path d="M297.1,754.5V762.3M291.70000000000005,762.3h10.8M291.70000000000005,765h10.8" stroke="#000" stroke-width="1.9" fill="none"/>
<path d="M310.6,755.7V762.8M305.20000000000005,762.8h10.8M305.20000000000005,765.7h10.8" stroke="#000" stroke-width="1.9" fill="none"/>
<path d="M391.9,754.7V761.7M386.5,761.7h10.8M386.5,764.4h10.8" stroke="#000" stroke-width="1.9" fill="none"/>
<path d="M405.5,754.5V767.5M400.1,763h10.8" stroke="#000" stroke-width="1.9" fill="none"/>
<path d="M419,753.8V766.2M413.6,761.7h10.8" stroke="#000" stroke-width="1.9" fill="none"/>
<path d="M432.6,753.7V766.2M427.20000000000005,761.7h10.8" stroke="#000" stroke-width="1.9" fill="none"/>
<path d="M446.1,754.1V766.5M440.70000000000005,762h10.8" stroke="#000" stroke-width="1.9" fill="none"/>
<path d="M527,756.5V763.3M521.6,763.3h10.8M521.6,765.7h10.8" stroke="#000" stroke-width="1.9" fill="none"/>
<path d="M540.5,756.75V763.7M535.1,763.7h10.8M535.1,766.4h10.8" stroke="#000" stroke-width="1.9" fill="none"/>
<path d="M554,753.8V766.5M548.6,762h10.8" stroke="#000" stroke-width="1.9" fill="none"/>
<path d="M567.6,753.8V766.5M562.2,762h10.8" stroke="#000" stroke-width="1.9" fill="none"/>
<path d="M581.1,755.7V761.7M575.7,761.7h10.8M575.7,764.1h10.8" stroke="#000" stroke-width="1.9" fill="none"/>
<path d="M661.5,753.7V766.5M656.1,762h10.8" stroke="#000" stroke-width="1.9" fill="none"/>
<path d="M675,753.7V766.5M669.6,762h10.8" stroke="#000" stroke-width="1.9" fill="none"/>
<path d="M688.5,754.1V766.7M683.1,762.2h10.8" stroke="#000" stroke-width="1.9" fill="none"/>
<path d="M702,754.1V766.7M696.6,762.2h10.8" stroke="#000" stroke-width="1.9" fill="none"/>
<path d="M715.5,754.1V766.7M710.1,762.2h10.8" stroke="#000" stroke-width="1.9" fill="none"/>
<path d="M189.4,1274.2V1280.9M184.0,1280.9h10.8M184.0,1284.1h10.8" stroke="#000" stroke-width="1.9" fill="none"/>
<path d="M202.9,1273.8V1278.8M197.5,1278.8h10.8M197.5,1283.9h10.8" stroke="#000" stroke-width="1.9" fill="none"/>
<path d="M216.5,1272.8V1276.7M211.1,1276.7h10.8M211.1,1285.2h10.8" stroke="#000" stroke-width="1.9" fill="none"/>
<path d="M230,1271.1V1275.7M224.6,1275.7h10.8M224.6,1282.5h10.8" stroke="#000" stroke-width="1.9" fill="none"/>
<path d="M243.5,1272.8V1279.8M238.1,1279.8h10.8M238.1,1282.9h10.8" stroke="#000" stroke-width="1.9" fill="none"/>
<path d="M324.4,1273.3V1280.1M319.0,1280.1h10.8M319.0,1282.1h10.8" stroke="#000" stroke-width="1.9" fill="none"/>
<path d="M338,1274.9V1281.8M332.6,1281.8h10.8M332.6,1283.2h10.8" stroke="#000" stroke-width="1.9" fill="none"/>
<path d="M351.5,1273.8V1280.1M346.1,1280.1h10.8M346.1,1282.9h10.8" stroke="#000" stroke-width="1.9" fill="none"/>
<path d="M365,1273.8V1279.1M359.6,1279.1h10.8M359.6,1285.2h10.8" stroke="#000" stroke-width="1.9" fill="none"/>
<path d="M378.6,1272.2V1278.8M373.20000000000005,1278.8h10.8M373.20000000000005,1282.5h10.8" stroke="#000" stroke-width="1.9" fill="none"/>
<path d="M459.3,1267.8V1270.6M453.90000000000003,1270.6h10.8M453.90000000000003,1281.2h10.8" stroke="#000" stroke-width="1.9" fill="none"/>
<path d="M472.8,1264.7V1269M467.40000000000003,1269h10.8M467.40000000000003,1277h10.8" stroke="#000" stroke-width="1.9" fill="none"/>
<path d="M486.3,1267.0V1269.4M480.90000000000003,1269.4h10.8M480.90000000000003,1280.5h10.8" stroke="#000" stroke-width="1.9" fill="none"/>
<path d="M499.8,1267.5V1268.6M494.40000000000003,1268.6h10.8M494.40000000000003,1282.1h10.8" stroke="#000" stroke-width="1.9" fill="none"/>
<path d="M513.3,1269.1V1272.8M507.9,1272.8h10.8M507.9,1281.8h10.8" stroke="#000" stroke-width="1.9" fill="none"/>
<path d="M594.5,1273.5V1278.9M589.1,1278.9h10.8M589.1,1283.2h10.8" stroke="#000" stroke-width="1.9" fill="none"/>
<path d="M607.6,1273.8V1279.1M602.2,1279.1h10.8M602.2,1283.9h10.8" stroke="#000" stroke-width="1.9" fill="none"/>
<path d="M621,1270.8V1274.7M615.6,1274.7h10.8M615.6,1282.9h10.8" stroke="#000" stroke-width="1.9" fill="none"/>
<path d="M634.5,1274.2V1279.1M629.1,1279.1h10.8M629.1,1284.8h10.8" stroke="#000" stroke-width="1.9" fill="none"/>
<path d="M648,1269.9V1271.7M642.6,1271.7h10.8M642.6,1283.9h10.8" stroke="#000" stroke-width="1.9" fill="none"/>
<path d="M729.4,1269.5V1270.3M724.0,1270.3h10.8M724.0,1283.9h10.8" stroke="#000" stroke-width="1.9" fill="none"/>
<path d="M742.9,1270.1V1275.1M737.5,1275.1h10.8M737.5,1281.8h10.8" stroke="#000" stroke-width="1.9" fill="none"/>
<path d="M756.5,1270.1V1271M751.1,1271h10.8M751.1,1284.9h10.8" stroke="#000" stroke-width="1.9" fill="none"/>
<path d="M770,1272.2V1277.1M764.6,1277.1h10.8M764.6,1282.9h10.8" stroke="#000" stroke-width="1.9" fill="none"/>
<path d="M783.6,1267.8V1273.3M778.2,1273.3h10.8M778.2,1278.8h10.8" stroke="#000" stroke-width="1.9" fill="none"/>
<path d="M123.5,1094.5V1120.75M118.25,1094.5h10.5M118.25,1120.75h10.5" stroke="#000" stroke-width="1.8" fill="none"/>
<rect x="118.25" y="1103.0" width="10.5" height="10.5" fill="#00008b"/>
<path d="M137.0,1097.5V1127.0M131.75,1097.5h10.5M131.75,1127.0h10.5" stroke="#000" stroke-width="1.8" fill="none"/>
<rect x="131.75" y="1106.75" width="10.5" height="10.5" fill="#00008b"/>
<path d="M150.5,1102.5V1121.75M145.25,1102.5h10.5M145.25,1121.75h10.5" stroke="#000" stroke-width="1.8" fill="none"/>
<rect x="145.25" y="1106.5" width="10.5" height="10.5" fill="#00008b"/>
<path d="M164.0,1105.75V1136.75M158.75,1105.75h10.5M158.75,1136.75h10.5" stroke="#000" stroke-width="1.8" fill="none"/>
<rect x="158.75" y="1116.5" width="10.5" height="10.5" fill="#00008b"/>
<path d="M177.5,1112.0V1141.25M172.25,1112.0h10.5M172.25,1141.25h10.5" stroke="#000" stroke-width="1.8" fill="none"/>
<rect x="172.25" y="1121.5" width="10.5" height="10.5" fill="#00008b"/>
<path d="M191.25,899.25V941.75M186.0,899.25h10.5M186.0,941.75h10.5" stroke="#000" stroke-width="1.8" fill="none"/>
<rect x="186.0" y="915.5" width="10.5" height="10.5" fill="#00008b"/>
<path d="M204.5,910.5V948.0M199.25,910.5h10.5M199.25,948.0h10.5" stroke="#000" stroke-width="1.8" fill="none"/>
<rect x="199.25" y="923.5" width="10.5" height="10.5" fill="#00008b"/>
<path d="M218.0,908.75V932.5M212.75,908.75h10.5M212.75,932.5h10.5" stroke="#000" stroke-width="1.8" fill="none"/>
<rect x="212.75" y="915.5" width="10.5" height="10.5" fill="#00008b"/>
<path d="M231.5,901.75V935.0M226.25,901.75h10.5M226.25,935.0h10.5" stroke="#000" stroke-width="1.8" fill="none"/>
<rect x="226.25" y="913.5" width="10.5" height="10.5" fill="#00008b"/>
<path d="M245.0,907.5V939.25M239.75,907.5h10.5M239.75,939.25h10.5" stroke="#000" stroke-width="1.8" fill="none"/>
<rect x="239.75" y="918.5" width="10.5" height="10.5" fill="#00008b"/>
<path d="M258.5,1101.75V1131.25M253.25,1101.75h10.5M253.25,1131.25h10.5" stroke="#000" stroke-width="1.8" fill="none"/>
<rect x="253.25" y="1111.5" width="10.5" height="10.5" fill="#00008b"/>
<path d="M272.0,1112.0V1128.25M266.75,1112.0h10.5M266.75,1128.25h10.5" stroke="#000" stroke-width="1.8" fill="none"/>
<rect x="266.75" y="1114.75" width="10.5" height="10.5" fill="#00008b"/>
<path d="M285.5,1110.0V1125.75M280.25,1110.0h10.5M280.25,1125.75h10.5" stroke="#000" stroke-width="1.8" fill="none"/>
<rect x="280.25" y="1112.75" width="10.5" height="10.5" fill="#00008b"/>
<path d="M299.0,1119.25V1139.25M293.75,1119.25h10.5M293.75,1139.25h10.5" stroke="#000" stroke-width="1.8" fill="none"/>
<rect x="293.75" y="1124.25" width="10.5" height="10.5" fill="#00008b"/>
<path d="M312.5,1114.25V1141.25M307.25,1114.25h10.5M307.25,1141.25h10.5" stroke="#000" stroke-width="1.8" fill="none"/>
<rect x="307.25" y="1122.75" width="10.5" height="10.5" fill="#00008b"/>
<path d="M325.75,912.5V958.75M320.5,912.5h10.5M320.5,958.75h10.5" stroke="#000" stroke-width="1.8" fill="none"/>
<rect x="320.5" y="930.5" width="10.5" height="10.5" fill="#00008b"/>
<path d="M339.25,916.75V942.5M334.0,916.75h10.5M334.0,942.5h10.5" stroke="#000" stroke-width="1.8" fill="none"/>
<rect x="334.0" y="924.25" width="10.5" height="10.5" fill="#00008b"/>
<path d="M352.75,918.0V946.5M347.5,918.0h10.5M347.5,946.5h10.5" stroke="#000" stroke-width="1.8" fill="none"/>
<rect x="347.5" y="927.25" width="10.5" height="10.5" fill="#00008b"/>
<path d="M366.5,902.5V937.5M361.25,902.5h10.5M361.25,937.5h10.5" stroke="#000" stroke-width="1.8" fill="none"/>
<rect x="361.25" y="915.25" width="10.5" height="10.5" fill="#00008b"/>
<path d="M380.0,918.75V935.75M374.75,918.75h10.5M374.75,935.75h10.5" stroke="#000" stroke-width="1.8" fill="none"/>
<rect x="374.75" y="922.25" width="10.5" height="10.5" fill="#00008b"/>
<path d="M393.25,1112.0V1138.75M388.0,1112.0h10.5M388.0,1138.75h10.5" stroke="#000" stroke-width="1.8" fill="none"/>
<rect x="388.0" y="1120.5" width="10.5" height="10.5" fill="#00008b"/>
<path d="M407.0,1117.0V1143.0M401.75,1117.0h10.5M401.75,1143.0h10.5" stroke="#000" stroke-width="1.8" fill="none"/>
<rect x="401.75" y="1125.25" width="10.5" height="10.5" fill="#00008b"/>
<path d="M420.5,1118.75V1146.75M415.25,1118.75h10.5M415.25,1146.75h10.5" stroke="#000" stroke-width="1.8" fill="none"/>
<rect x="415.25" y="1127.25" width="10.5" height="10.5" fill="#00008b"/>
<path d="M434.25,1117.5V1141.75M429.0,1117.5h10.5M429.0,1141.75h10.5" stroke="#000" stroke-width="1.8" fill="none"/>
<rect x="429.0" y="1124.0" width="10.5" height="10.5" fill="#00008b"/>
<path d="M447.75,1123.25V1146.25M442.5,1123.25h10.5M442.5,1146.25h10.5" stroke="#000" stroke-width="1.8" fill="none"/>
<rect x="442.5" y="1129.25" width="10.5" height="10.5" fill="#00008b"/>
<path d="M461.25,915.0V953.75M456.0,915.0h10.5M456.0,953.75h10.5" stroke="#000" stroke-width="1.8" fill="none"/>
<rect x="456.0" y="929.75" width="10.5" height="10.5" fill="#00008b"/>
<path d="M474.5,917.0V946.25M469.25,917.0h10.5M469.25,946.25h10.5" stroke="#000" stroke-width="1.8" fill="none"/>
<rect x="469.25" y="926.75" width="10.5" height="10.5" fill="#00008b"/>
<path d="M488.0,926.25V953.25M482.75,926.25h10.5M482.75,953.25h10.5" stroke="#000" stroke-width="1.8" fill="none"/>
<rect x="482.75" y="934.25" width="10.5" height="10.5" fill="#00008b"/>
<path d="M501.5,930.75V954.25M496.25,930.75h10.5M496.25,954.25h10.5" stroke="#000" stroke-width="1.8" fill="none"/>
<rect x="496.25" y="937.25" width="10.5" height="10.5" fill="#00008b"/>
<path d="M515.0,931.75V953.0M509.75,931.75h10.5M509.75,953.0h10.5" stroke="#000" stroke-width="1.8" fill="none"/>
<rect x="509.75" y="936.75" width="10.5" height="10.5" fill="#00008b"/>
<path d="M528.5,1123.75V1142.5M523.25,1123.75h10.5M523.25,1142.5h10.5" stroke="#000" stroke-width="1.8" fill="none"/>
<rect x="523.25" y="1127.75" width="10.5" height="10.5" fill="#00008b"/>
<path d="M542.0,1129.25V1145.0M536.75,1129.25h10.5M536.75,1145.0h10.5" stroke="#000" stroke-width="1.8" fill="none"/>
<rect x="536.75" y="1131.75" width="10.5" height="10.5" fill="#00008b"/>
<path d="M555.5,1133.75V1151.75M550.25,1133.75h10.5M550.25,1151.75h10.5" stroke="#000" stroke-width="1.8" fill="none"/>
<rect x="550.25" y="1137.75" width="10.5" height="10.5" fill="#00008b"/>
<path d="M569.0,1128.75V1151.25M563.75,1128.75h10.5M563.75,1151.25h10.5" stroke="#000" stroke-width="1.8" fill="none"/>
<rect x="563.75" y="1134.75" width="10.5" height="10.5" fill="#00008b"/>
<path d="M582.5,1133.0V1153.75M577.25,1133.0h10.5M577.25,1153.75h10.5" stroke="#000" stroke-width="1.8" fill="none"/>
<rect x="577.25" y="1138.5" width="10.5" height="10.5" fill="#00008b"/>
<path d="M595.75,933.0V963.0M590.5,933.0h10.5M590.5,963.0h10.5" stroke="#000" stroke-width="1.8" fill="none"/>
<rect x="590.5" y="943.0" width="10.5" height="10.5" fill="#00008b"/>
<path d="M609.5,932.5V957.5M604.25,932.5h10.5M604.25,957.5h10.5" stroke="#000" stroke-width="1.8" fill="none"/>
<rect x="604.25" y="939.75" width="10.5" height="10.5" fill="#00008b"/>
<path d="M622.75,938.25V966.75M617.5,938.25h10.5M617.5,966.75h10.5" stroke="#000" stroke-width="1.8" fill="none"/>
<rect x="617.5" y="947.25" width="10.5" height="10.5" fill="#00008b"/>
<path d="M636.25,936.25V970.5M631.0,936.25h10.5M631.0,970.5h10.5" stroke="#000" stroke-width="1.8" fill="none"/>
<rect x="631.0" y="948.5" width="10.5" height="10.5" fill="#00008b"/>
<path d="M650.0,943.0V966.75M644.75,943.0h10.5M644.75,966.75h10.5" stroke="#000" stroke-width="1.8" fill="none"/>
<rect x="644.75" y="949.75" width="10.5" height="10.5" fill="#00008b"/>
<path d="M663.25,1120.5V1137.0M658.0,1120.5h10.5M658.0,1137.0h10.5" stroke="#000" stroke-width="1.8" fill="none"/>
<rect x="658.0" y="1123.5" width="10.5" height="10.5" fill="#00008b"/>
<path d="M676.75,1129.25V1152.5M671.5,1129.25h10.5M671.5,1152.5h10.5" stroke="#000" stroke-width="1.8" fill="none"/>
<rect x="671.5" y="1135.5" width="10.5" height="10.5" fill="#00008b"/>
<path d="M690.25,1123.25V1148.75M685.0,1123.25h10.5M685.0,1148.75h10.5" stroke="#000" stroke-width="1.8" fill="none"/>
<rect x="685.0" y="1130.5" width="10.5" height="10.5" fill="#00008b"/>
<path d="M703.75,1127.5V1155.75M698.5,1127.5h10.5M698.5,1155.75h10.5" stroke="#000" stroke-width="1.8" fill="none"/>
<rect x="698.5" y="1136.5" width="10.5" height="10.5" fill="#00008b"/>
<path d="M717.25,1131.25V1158.0M712.0,1131.25h10.5M712.0,1158.0h10.5" stroke="#000" stroke-width="1.8" fill="none"/>
<rect x="712.0" y="1139.25" width="10.5" height="10.5" fill="#00008b"/>
<path d="M730.5,935.5V975.75M725.25,935.5h10.5M725.25,975.75h10.5" stroke="#000" stroke-width="1.8" fill="none"/>
<rect x="725.25" y="950.5" width="10.5" height="10.5" fill="#00008b"/>
<path d="M744.25,926.75V965.5M739.0,926.75h10.5M739.0,965.5h10.5" stroke="#000" stroke-width="1.8" fill="none"/>
<rect x="739.0" y="941.0" width="10.5" height="10.5" fill="#00008b"/>
<path d="M757.75,942.5V965.0M752.5,942.5h10.5M752.5,965.0h10.5" stroke="#000" stroke-width="1.8" fill="none"/>
<rect x="752.5" y="949.0" width="10.5" height="10.5" fill="#00008b"/>
<path d="M771.25,944.5V959.25M766.0,944.5h10.5M766.0,959.25h10.5" stroke="#000" stroke-width="1.8" fill="none"/>
<rect x="766.0" y="946.5" width="10.5" height="10.5" fill="#00008b"/>
<path d="M784.5,937.0V961.25M779.25,937.0h10.5M779.25,961.25h10.5" stroke="#000" stroke-width="1.8" fill="none"/>
<rect x="779.25" y="944.25" width="10.5" height="10.5" fill="#00008b"/>
<line x1="108.4" y1="746.25" x2="797.5" y2="746.25" stroke="#231f20" stroke-width="1" />
<line x1="108.4" y1="1300.4" x2="797.5" y2="1300.4" stroke="#000" stroke-width="1.2" />
<line x1="108.4" y1="746.25" x2="108.4" y2="1300.4" stroke="#ff0000" stroke-width="1.1" />
<line x1="797.5" y1="746.25" x2="797.5" y2="1300.4" stroke="#00008b" stroke-width="1.4" />
<line x1="97.4" y1="1284.5" x2="108.4" y2="1284.5" stroke="#ff0000" stroke-width="1.1" />
<text x="89" y="1293.2" font-size="26" text-anchor="end" fill="#ff0000" font-weight="normal" font-family='"Liberation Sans", Arial, Helvetica, sans-serif' >0</text>
<line x1="102.4" y1="1232.2" x2="108.4" y2="1232.2" stroke="#ff0000" stroke-width="1.1" />
<line x1="97.4" y1="1179.91" x2="108.4" y2="1179.91" stroke="#ff0000" stroke-width="1.1" />
<text x="89" y="1188.6" font-size="26" text-anchor="end" fill="#ff0000" font-weight="normal" font-family='"Liberation Sans", Arial, Helvetica, sans-serif' >20</text>
<line x1="102.4" y1="1127.62" x2="108.4" y2="1127.62" stroke="#ff0000" stroke-width="1.1" />
<line x1="97.4" y1="1075.32" x2="108.4" y2="1075.32" stroke="#ff0000" stroke-width="1.1" />
<text x="89" y="1084.0" font-size="26" text-anchor="end" fill="#ff0000" font-weight="normal" font-family='"Liberation Sans", Arial, Helvetica, sans-serif' >40</text>
<line x1="102.4" y1="1023.03" x2="108.4" y2="1023.03" stroke="#ff0000" stroke-width="1.1" />
<line x1="97.4" y1="970.73" x2="108.4" y2="970.73" stroke="#ff0000" stroke-width="1.1" />
<text x="89" y="979.4" font-size="26" text-anchor="end" fill="#ff0000" font-weight="normal" font-family='"Liberation Sans", Arial, Helvetica, sans-serif' >60</text>
<line x1="102.4" y1="918.43" x2="108.4" y2="918.43" stroke="#ff0000" stroke-width="1.1" />
<line x1="97.4" y1="866.14" x2="108.4" y2="866.14" stroke="#ff0000" stroke-width="1.1" />
<text x="89" y="874.8" font-size="26" text-anchor="end" fill="#ff0000" font-weight="normal" font-family='"Liberation Sans", Arial, Helvetica, sans-serif' >80</text>
<line x1="102.4" y1="813.85" x2="108.4" y2="813.85" stroke="#ff0000" stroke-width="1.1" />
<line x1="97.4" y1="761.55" x2="108.4" y2="761.55" stroke="#ff0000" stroke-width="1.1" />
<text x="89" y="770.3" font-size="26" text-anchor="end" fill="#ff0000" font-weight="normal" font-family='"Liberation Sans", Arial, Helvetica, sans-serif' >100</text>
<line x1="797.5" y1="1300.4" x2="809.0" y2="1300.4" stroke="#00008b" stroke-width="1.4" />
<text x="818" y="1309.0" font-size="26" text-anchor="start" fill="#00008b" font-weight="normal" font-family='"Liberation Sans", Arial, Helvetica, sans-serif' >0</text>
<line x1="797.5" y1="1263.46" x2="803.0" y2="1263.46" stroke="#00008b" stroke-width="1.4" />
<line x1="797.5" y1="1226.51" x2="809.0" y2="1226.51" stroke="#00008b" stroke-width="1.4" />
<text x="818" y="1235.1" font-size="26" text-anchor="start" fill="#00008b" font-weight="normal" font-family='"Liberation Sans", Arial, Helvetica, sans-serif' >20</text>
<line x1="797.5" y1="1189.57" x2="803.0" y2="1189.57" stroke="#00008b" stroke-width="1.4" />
<line x1="797.5" y1="1152.63" x2="809.0" y2="1152.63" stroke="#00008b" stroke-width="1.4" />
<text x="818" y="1161.2" font-size="26" text-anchor="start" fill="#00008b" font-weight="normal" font-family='"Liberation Sans", Arial, Helvetica, sans-serif' >40</text>
<line x1="797.5" y1="1115.69" x2="803.0" y2="1115.69" stroke="#00008b" stroke-width="1.4" />
<line x1="797.5" y1="1078.74" x2="809.0" y2="1078.74" stroke="#00008b" stroke-width="1.4" />
<text x="818" y="1087.3" font-size="26" text-anchor="start" fill="#00008b" font-weight="normal" font-family='"Liberation Sans", Arial, Helvetica, sans-serif' >60</text>
<line x1="797.5" y1="1041.8" x2="803.0" y2="1041.8" stroke="#00008b" stroke-width="1.4" />
<line x1="797.5" y1="1004.86" x2="809.0" y2="1004.86" stroke="#00008b" stroke-width="1.4" />
<text x="818" y="1013.5" font-size="26" text-anchor="start" fill="#00008b" font-weight="normal" font-family='"Liberation Sans", Arial, Helvetica, sans-serif' >80</text>
<line x1="797.5" y1="967.91" x2="803.0" y2="967.91" stroke="#00008b" stroke-width="1.4" />
<line x1="797.5" y1="930.97" x2="809.0" y2="930.97" stroke="#00008b" stroke-width="1.4" />
<text x="818" y="939.6" font-size="26" text-anchor="start" fill="#00008b" font-weight="normal" font-family='"Liberation Sans", Arial, Helvetica, sans-serif' >100</text>
<line x1="797.5" y1="894.03" x2="803.0" y2="894.03" stroke="#00008b" stroke-width="1.4" />
<line x1="797.5" y1="857.08" x2="809.0" y2="857.08" stroke="#00008b" stroke-width="1.4" />
<text x="818" y="865.7" font-size="26" text-anchor="start" fill="#00008b" font-weight="normal" font-family='"Liberation Sans", Arial, Helvetica, sans-serif' >120</text>
<line x1="797.5" y1="820.14" x2="803.0" y2="820.14" stroke="#00008b" stroke-width="1.4" />
<line x1="797.5" y1="783.2" x2="809.0" y2="783.2" stroke="#00008b" stroke-width="1.4" />
<text x="818" y="791.8" font-size="26" text-anchor="start" fill="#00008b" font-weight="normal" font-family='"Liberation Sans", Arial, Helvetica, sans-serif' >140</text>
<line x1="797.5" y1="746.26" x2="803.0" y2="746.26" stroke="#00008b" stroke-width="1.4" />
<line x1="247.75" y1="1300.4" x2="247.75" y2="1312.4" stroke="#231f20" stroke-width="1.2" />
<line x1="383.75" y1="1300.4" x2="383.75" y2="1312.4" stroke="#231f20" stroke-width="1.2" />
<line x1="518.75" y1="1300.4" x2="518.75" y2="1312.4" stroke="#231f20" stroke-width="1.2" />
<line x1="653.25" y1="1300.4" x2="653.25" y2="1312.4" stroke="#231f20" stroke-width="1.2" />
<line x1="789.5" y1="1300.4" x2="789.5" y2="1312.4" stroke="#231f20" stroke-width="1.2" />
<text x="184.25" y="1337.1" font-size="26" text-anchor="middle" fill="#000" font-weight="normal" font-family='"Liberation Sans", Arial, Helvetica, sans-serif' >1</text>
<text x="298.25" y="1337.1" font-size="26" text-anchor="middle" fill="#000" font-weight="normal" font-family='"Liberation Sans", Arial, Helvetica, sans-serif' >2</text>
<text x="453.75" y="1337.1" font-size="26" text-anchor="middle" fill="#000" font-weight="normal" font-family='"Liberation Sans", Arial, Helvetica, sans-serif' >3</text>
<text x="591.75" y="1337.1" font-size="26" text-anchor="middle" fill="#000" font-weight="normal" font-family='"Liberation Sans", Arial, Helvetica, sans-serif' >4</text>
<text x="728" y="1337.1" font-size="26" text-anchor="middle" fill="#000" font-weight="normal" font-family='"Liberation Sans", Arial, Helvetica, sans-serif' >5</text>
<text x="452.5" y="1373" font-size="26" text-anchor="middle" fill="#000" font-weight="normal" font-family='"Liberation Sans", Arial, Helvetica, sans-serif' >Cycle</text>
<text transform="translate(160.6,1031.5) rotate(-90)" font-size="26" text-anchor="middle" fill="#000" font-family='"Liberation Sans", Arial, Helvetica, sans-serif' >Water</text>
<text transform="translate(229.4,1031.5) rotate(-90)" font-size="26" text-anchor="middle" fill="#000" font-family='"Liberation Sans", Arial, Helvetica, sans-serif' >MeOH</text>
<text transform="translate(21.3,1021.7) rotate(-90)" font-size="26" text-anchor="middle" fill="#ff0000" font-family='"Liberation Sans", Arial, Helvetica, sans-serif' >Rejection (%)</text>
<text transform="translate(881,1023) rotate(90)" font-size="26" text-anchor="middle" fill="#00008b" font-family='"Liberation Sans", Arial, Helvetica, sans-serif' >Permeance (l m<tspan dy="-10" font-size="17">−2</tspan><tspan dy="10"> h</tspan><tspan dy="-10" font-size="17">−1</tspan><tspan dy="10"> bar</tspan><tspan dy="-10" font-size="17">−1</tspan><tspan dy="10">)</tspan></text>
<text transform="translate(-1.8,735.0) scale(0.88,1)" font-size="31" font-weight="bold" stroke="#000" stroke-width="0.7" font-family='"Liberation Sans", Arial, Helvetica, sans-serif'>c</text>
</g>
<g id="panel_d">
<defs>
<clipPath id="pclip"><rect x="0" y="0" width="179.2" height="268.0"/></clipPath>
<filter id="kblur" x="-5%" y="-20%" width="110%" height="140%"><feGaussianBlur stdDeviation="1.1"/></filter>
<filter id="pblur" x="-5%" y="-5%" width="110%" height="110%"><feGaussianBlur stdDeviation="0.7"/></filter>
<linearGradient id="floor0" x1="0" y1="0" x2="0.1" y2="1"><stop offset="0" stop-color="#858785"/><stop offset="0.05" stop-color="#979a99"/><stop offset="0.2" stop-color="#b9bdc0"/><stop offset="0.5" stop-color="#cbced2"/><stop offset="1" stop-color="#d4d7da"/></linearGradient>
<linearGradient id="floor1" x1="0" y1="0" x2="0.1" y2="1"><stop offset="0" stop-color="#858785"/><stop offset="0.05" stop-color="#979a99"/><stop offset="0.2" stop-color="#b9bdc0"/><stop offset="0.5" stop-color="#cbced2"/><stop offset="1" stop-color="#d4d7da"/></linearGradient>
<linearGradient id="floor2" x1="0" y1="0" x2="0.1" y2="1"><stop offset="0" stop-color="#858785"/><stop offset="0.05" stop-color="#979a99"/><stop offset="0.2" stop-color="#b9bdc0"/><stop offset="0.5" stop-color="#cbced2"/><stop offset="1" stop-color="#d4d7da"/></linearGradient>
<linearGradient id="floor3" x1="0" y1="0" x2="0.1" y2="1"><stop offset="0" stop-color="#858785"/><stop offset="0.05" stop-color="#979a99"/><stop offset="0.2" stop-color="#b9bdc0"/><stop offset="0.5" stop-color="#cbced2"/><stop offset="1" stop-color="#d4d7da"/></linearGradient>
<linearGradient id="floor4" x1="0" y1="0" x2="0.1" y2="1"><stop offset="0" stop-color="#858785"/><stop offset="0.05" stop-color="#979a99"/><stop offset="0.2" stop-color="#b9bdc0"/><stop offset="0.5" stop-color="#cbced2"/><stop offset="1" stop-color="#d4d7da"/></linearGradient>
<linearGradient id="floor5" x1="0" y1="0" x2="0.1" y2="1"><stop offset="0" stop-color="#858785"/><stop offset="0.05" stop-color="#979a99"/><stop offset="0.2" stop-color="#b9bdc0"/><stop offset="0.5" stop-color="#cbced2"/><stop offset="1" stop-color="#d4d7da"/></linearGradient>
</defs>
<rect x="985.8" y="747.8" width="683.2" height="285.4" fill="#73cfff"/>
<rect x="985.8" y="1033.2" width="683.2" height="286" fill="#7dce94"/>
<g transform="translate(1043.8,758.8)" clip-path="url(#pclip)" filter="url(#pblur)"><rect width="179.2" height="268.0" fill="#c8ccd0"/><g transform="translate(0,0)">
<rect x="-14" y="-2" width="207.2" height="24" fill="#cdcbc0"/>
<rect x="-14" y="-2" width="60" height="24" fill="#d6d4ca" opacity=".6"/>
<rect x="-14" y="19.5" width="139" height="24" fill="#877a6b"/>
<rect x="-14" y="37" width="139" height="6" fill="#7d7567"/>
<rect x="-14" y="42" width="139" height="46" fill="#625d52"/>
<g filter="url(#kblur)">
<rect x="-14.0" y="46" width="11.5" height="10" fill="#736f64"/><rect x="-0.3" y="46" width="15.5" height="10" fill="#736f64"/><rect x="17.4" y="46" width="15.5" height="10" fill="#736f64"/><rect x="35.1" y="46" width="15.5" height="10" fill="#736f64"/><rect x="52.8" y="46" width="15.5" height="10" fill="#736f64"/><rect x="70.5" y="46" width="15.5" height="10" fill="#736f64"/><rect x="88.2" y="46" width="15.5" height="10" fill="#736f64"/><rect x="105.9" y="46" width="4.1" height="10" fill="#736f64"/>
<rect x="-14.0" y="53" width="11.0" height="3" fill="#8c887b"/><rect x="0.7" y="53" width="14.0" height="3" fill="#8c887b"/><rect x="18.4" y="53" width="14.0" height="3" fill="#8c887b"/><rect x="36.1" y="53" width="14.0" height="3" fill="#8c887b"/><rect x="53.8" y="53" width="14.0" height="3" fill="#8c887b"/><rect x="71.5" y="53" width="14.0" height="3" fill="#8c887b"/><rect x="89.2" y="53" width="14.0" height="3" fill="#8c887b"/><rect x="106.9" y="53" width="3.1" height="3" fill="#8c887b"/>
<rect x="-14.0" y="66.8" width="5.0" height="4.4" fill="#9c9889"/><rect x="-6.0" y="66.8" width="14.0" height="4.4" fill="#9c9889"/><rect x="11.0" y="66.8" width="14.0" height="4.4" fill="#9c9889"/><rect x="28.0" y="66.8" width="14.0" height="4.4" fill="#9c9889"/><rect x="45.0" y="66.8" width="14.0" height="4.4" fill="#9c9889"/><rect x="62.0" y="66.8" width="14.0" height="4.4" fill="#9c9889"/><rect x="79.0" y="66.8" width="14.0" height="4.4" fill="#9c9889"/><rect x="96.0" y="66.8" width="14.0" height="4.4" fill="#9c9889"/>
<rect x="-14.0" y="77.3" width="7.5" height="6.8" fill="#b2ad9e"/><rect x="-3.9" y="77.3" width="14.5" height="6.8" fill="#b2ad9e"/><rect x="13.2" y="77.3" width="14.5" height="6.8" fill="#b2ad9e"/><rect x="30.3" y="77.3" width="14.5" height="6.8" fill="#b2ad9e"/><rect x="47.4" y="77.3" width="14.5" height="6.8" fill="#b2ad9e"/><rect x="64.5" y="77.3" width="14.5" height="6.8" fill="#b2ad9e"/><rect x="81.6" y="77.3" width="14.5" height="6.8" fill="#b2ad9e"/><rect x="98.7" y="77.3" width="11.3" height="6.8" fill="#b2ad9e"/>
</g>
<rect x="-14" y="88.6" width="100" height="7" fill="#bdb5a6"/>
<rect x="-14" y="95.4" width="144" height="175" fill="url(#floor0)"/>
<rect x="62" y="-2" width="9.5" height="116" fill="#8e9091"/><rect x="69" y="-2" width="2.5" height="116" fill="#737576"/>
<rect x="75" y="-2" width="3" height="86" fill="#7a7c7d"/>
<ellipse cx="57" cy="119.5" rx="7.5" ry="4.8" fill="#3b3b3c"/>
<path d="M42,268V196C42,180 50,172 62,171.500H195V268Z" fill="#ffd21f"/>
<path d="M42,268V196C42,180 50,172 62,171.500C57,179 56,187 56,197V268Z" fill="#f2bc1a"/>
<path d="M58,268V199C58,185 64,177.500 76,176.500H195V268Z" fill="#ffd829"/>
<path d="M44,258 Q60,262 100,262 H195 V270 H44Z" fill="#dd9f12" opacity=".85"/>
<rect x="74.2" y="180.2" width="130" height="70.2" rx="8" fill="#20262b"/>
<ellipse cx="125" cy="227" rx="50" ry="13" fill="#5a656e" opacity=".42"/>
<ellipse cx="90" cy="222" rx="6" ry="12" fill="#9aa4ac" opacity=".35"/>
<path d="M118,250.4 q14,-11 30,0z" fill="#15191c"/>
<rect x="87.9" y="182" width="67.1" height="10.6" fill="#f8f6f4"/>
<path d="M100,187.3h36" stroke="#f0a0b0" stroke-width="1" stroke-dasharray="3 2"/>
<rect x="88.3" y="195.2" width="47.7" height="14.6" fill="#dde8dc"/>
<rect x="89.5" y="196" width="22" height="6.5" fill="#5f9f84"/><rect x="113.500" y="196" width="21.5" height="6.5" fill="#5f9f84"/>
<path d="M76,194.4L160,193.3Q172,192.500 182,187.500" stroke="#8c3426" stroke-width="0.9" fill="none"/>
<path d="M55,164 L195,168 V176 L64,174.500 Q56,172 55,164Z" fill="#2f2612"/>
<path d="M55,164 Q58,178 50,190 L58,176Z" fill="#c9a028" opacity=".8"/>
<path d="M60,124 Q58,150 70,166 Q90,171 120,171 L195,171 V146 L76,141Z" fill="#e9d9d1"/>
<path d="M62,150 Q64,162 72,166 L120,171 H195 V167 L120,167 Q80,166 62,150Z" fill="#d8c6bd"/>
<path d="M70,88 Q72,83 80,83 L112,81.5 L104,111 L195,124 V148 L78,142.5 Q62,140 61,124 Z" fill="#f5f2ee"/>
<rect x="93.4" y="150.6" width="26.3" height="20" rx="2.5" fill="#5d4e3f"/>
<circle cx="153" cy="163" r="0.9" fill="#6b5a50"/>
<path d="M116.2,5 Q116.600,3 119.500,2.800 L195,0 V118 L171,124 Q168,124.500 165,124 L103.5,112.8 Q100.800,112 101.500,108.500Z" fill="#222223"/>
<path d="M171,124 L195,118 V0 L176,2 L172,30Z" fill="#262628"/>
<rect x="129.5" y="36" width="39.5" height="54" fill="#322f2e"/>
<rect x="149" y="38" width="19.5" height="40" fill="#5d584c" opacity=".85"/>
<rect x="150.300" y="38" width="3.6" height="48" fill="#8a7a9e"/>
<ellipse cx="145.5" cy="107" rx="25" ry="6.3" fill="#f0e4d2"/>
<path d="M120.5,97 h50 v10 a25,6.3 0 0 1 -50,0z" fill="#cdbda6"/>
<ellipse cx="145.5" cy="106.5" rx="24" ry="4.6" fill="#efe3d0"/>
<path d="M121.5,95 h48 v6.5 a24,5 0 0 1 -48,0z" fill="#a9a097"/>
<path d="M127,76 a20.5,4 0 0 1 41,0 V94 a20.5,4.500 0 0 1 -41,0Z" fill="#2613b4"/>
<ellipse cx="147.5" cy="76" rx="19" ry="3.4" fill="#4a35c8"/>
<rect x="150.300" y="68" width="3.6" height="14" fill="#8b6fc0" opacity=".8"/>
<rect x="127" y="10" width="41" height="19" rx="3" fill="#e5d8c1"/>
<rect x="148" y="10" width="20" height="19" rx="3" fill="#cbb596"/>
<rect x="120" y="25.7" width="51" height="11.3" rx="4.5" fill="#f0e7d4"/>
<path d="M121,33 h49 q0,4 -4,4 h-41 q-4,0 -4,-4z" fill="#d6c9b2"/>
<ellipse cx="139.3" cy="16.5" rx="6.6" ry="8.2" fill="#0c0c0d"/>
<rect x="139" y="100" width="9" height="4.5" fill="#f4efe9" transform="rotate(8 143 102)"/>
<path d="M143,103.5 C130,99 104,99.5 88,106 S68,121 65.500,126.500" stroke="#e0128a" stroke-width="3.1" fill="none" stroke-linecap="round"/>
<path d="M143,103.5 C130,99 104,99.5 88,106 S68,121 65.500,126.500" stroke="#f46ab8" stroke-width="0.9" fill="none" stroke-linecap="round" transform="translate(0,-0.6)"/>
<path d="M136,100.5 l8,3.2" stroke="#d4213f" stroke-width="2.600" stroke-linecap="round"/>
</g>
<polygon points="67.9,112.3 70.9,113.7 10.0,245.7 4.6,243.1" fill="#aeb5bd" opacity=".8"/>
<line x1="67.9" y1="112.3" x2="4.6" y2="243.1" stroke="#4d535a" stroke-width="0.9"/>
<line x1="70.9" y1="113.7" x2="10.0" y2="245.7" stroke="#6a7078" stroke-width="0.9"/>
<ellipse cx="12.3" cy="256.4" rx="17" ry="13" fill="#dfe2e5" opacity=".85"/>
<ellipse cx="11.3" cy="253.4" rx="10" ry="7" fill="#b9bec3" opacity=".7"/>
<ellipse cx="13.3" cy="261.4" rx="12" ry="5" fill="#eef0f2" opacity=".8"/></g>
<g transform="translate(1256.0,758.8)" clip-path="url(#pclip)" filter="url(#pblur)"><rect width="179.2" height="268.0" fill="#c8ccd0"/><g transform="translate(-3.5,0)">
<rect x="-14" y="-2" width="207.2" height="24" fill="#cdcbc0"/>
<rect x="-14" y="-2" width="60" height="24" fill="#d6d4ca" opacity=".6"/>
<rect x="-14" y="19.5" width="139" height="24" fill="#877a6b"/>
<rect x="-14" y="37" width="139" height="6" fill="#7d7567"/>
<rect x="-14" y="42" width="139" height="46" fill="#625d52"/>
<g filter="url(#kblur)">
<rect x="-14.0" y="46" width="11.5" height="10" fill="#736f64"/><rect x="-0.3" y="46" width="15.5" height="10" fill="#736f64"/><rect x="17.4" y="46" width="15.5" height="10" fill="#736f64"/><rect x="35.1" y="46" width="15.5" height="10" fill="#736f64"/><rect x="52.8" y="46" width="15.5" height="10" fill="#736f64"/><rect x="70.5" y="46" width="15.5" height="10" fill="#736f64"/><rect x="88.2" y="46" width="15.5" height="10" fill="#736f64"/><rect x="105.9" y="46" width="4.1" height="10" fill="#736f64"/>
<rect x="-14.0" y="53" width="11.0" height="3" fill="#8c887b"/><rect x="0.7" y="53" width="14.0" height="3" fill="#8c887b"/><rect x="18.4" y="53" width="14.0" height="3" fill="#8c887b"/><rect x="36.1" y="53" width="14.0" height="3" fill="#8c887b"/><rect x="53.8" y="53" width="14.0" height="3" fill="#8c887b"/><rect x="71.5" y="53" width="14.0" height="3" fill="#8c887b"/><rect x="89.2" y="53" width="14.0" height="3" fill="#8c887b"/><rect x="106.9" y="53" width="3.1" height="3" fill="#8c887b"/>
<rect x="-14.0" y="66.8" width="5.0" height="4.4" fill="#9c9889"/><rect x="-6.0" y="66.8" width="14.0" height="4.4" fill="#9c9889"/><rect x="11.0" y="66.8" width="14.0" height="4.4" fill="#9c9889"/><rect x="28.0" y="66.8" width="14.0" height="4.4" fill="#9c9889"/><rect x="45.0" y="66.8" width="14.0" height="4.4" fill="#9c9889"/><rect x="62.0" y="66.8" width="14.0" height="4.4" fill="#9c9889"/><rect x="79.0" y="66.8" width="14.0" height="4.4" fill="#9c9889"/><rect x="96.0" y="66.8" width="14.0" height="4.4" fill="#9c9889"/>
<rect x="-14.0" y="77.3" width="7.5" height="6.8" fill="#b2ad9e"/><rect x="-3.9" y="77.3" width="14.5" height="6.8" fill="#b2ad9e"/><rect x="13.2" y="77.3" width="14.5" height="6.8" fill="#b2ad9e"/><rect x="30.3" y="77.3" width="14.5" height="6.8" fill="#b2ad9e"/><rect x="47.4" y="77.3" width="14.5" height="6.8" fill="#b2ad9e"/><rect x="64.5" y="77.3" width="14.5" height="6.8" fill="#b2ad9e"/><rect x="81.6" y="77.3" width="14.5" height="6.8" fill="#b2ad9e"/><rect x="98.7" y="77.3" width="11.3" height="6.8" fill="#b2ad9e"/>
</g>
<rect x="-14" y="88.6" width="100" height="7" fill="#bdb5a6"/>
<rect x="-14" y="95.4" width="144" height="175" fill="url(#floor1)"/>
<rect x="62" y="-2" width="9.5" height="116" fill="#8e9091"/><rect x="69" y="-2" width="2.5" height="116" fill="#737576"/>
<rect x="75" y="-2" width="3" height="86" fill="#7a7c7d"/>
<ellipse cx="57" cy="119.5" rx="7.5" ry="4.8" fill="#3b3b3c"/>
<path d="M42,268V196C42,180 50,172 62,171.500H195V268Z" fill="#ffd21f"/>
<path d="M42,268V196C42,180 50,172 62,171.500C57,179 56,187 56,197V268Z" fill="#f2bc1a"/>
<path d="M58,268V199C58,185 64,177.500 76,176.500H195V268Z" fill="#ffd829"/>
<path d="M44,258 Q60,262 100,262 H195 V270 H44Z" fill="#dd9f12" opacity=".85"/>
<rect x="74.2" y="180.2" width="130" height="70.2" rx="8" fill="#20262b"/>
<ellipse cx="125" cy="227" rx="50" ry="13" fill="#5a656e" opacity=".42"/>
<ellipse cx="90" cy="222" rx="6" ry="12" fill="#9aa4ac" opacity=".35"/>
<path d="M118,250.4 q14,-11 30,0z" fill="#15191c"/>
<rect x="87.9" y="182" width="67.1" height="10.6" fill="#f8f6f4"/>
<path d="M100,187.3h36" stroke="#f0a0b0" stroke-width="1" stroke-dasharray="3 2"/>
<rect x="88.3" y="195.2" width="47.7" height="14.6" fill="#dde8dc"/>
<rect x="89.5" y="196" width="22" height="6.5" fill="#5f9f84"/><rect x="113.500" y="196" width="21.5" height="6.5" fill="#5f9f84"/>
<path d="M76,194.4L160,193.3Q172,192.500 182,187.500" stroke="#8c3426" stroke-width="0.9" fill="none"/>
<path d="M55,164 L195,168 V176 L64,174.500 Q56,172 55,164Z" fill="#2f2612"/>
<path d="M55,164 Q58,178 50,190 L58,176Z" fill="#c9a028" opacity=".8"/>
<path d="M60,124 Q58,150 70,166 Q90,171 120,171 L195,171 V146 L76,141Z" fill="#e9d9d1"/>
<path d="M62,150 Q64,162 72,166 L120,171 H195 V167 L120,167 Q80,166 62,150Z" fill="#d8c6bd"/>
<path d="M70,88 Q72,83 80,83 L112,81.5 L104,111 L195,124 V148 L78,142.5 Q62,140 61,124 Z" fill="#f5f2ee"/>
<rect x="93.4" y="150.6" width="26.3" height="20" rx="2.5" fill="#5d4e3f"/>
<circle cx="153" cy="163" r="0.9" fill="#6b5a50"/>
<path d="M116.2,5 Q116.600,3 119.500,2.800 L195,0 V118 L171,124 Q168,124.500 165,124 L103.5,112.8 Q100.800,112 101.500,108.500Z" fill="#222223"/>
<path d="M171,124 L195,118 V0 L176,2 L172,30Z" fill="#262628"/>
<rect x="129.5" y="36" width="39.5" height="54" fill="#322f2e"/>
<rect x="149" y="38" width="19.5" height="40" fill="#5d584c" opacity=".85"/>
<rect x="150.300" y="38" width="3.6" height="48" fill="#8a7a9e"/>
<ellipse cx="145.5" cy="107" rx="25" ry="6.3" fill="#f0e4d2"/>
<path d="M120.5,97 h50 v10 a25,6.3 0 0 1 -50,0z" fill="#cdbda6"/>
<ellipse cx="145.5" cy="106.5" rx="24" ry="4.6" fill="#efe3d0"/>
<path d="M121.5,95 h48 v6.5 a24,5 0 0 1 -48,0z" fill="#a9a097"/>
<path d="M127,76 a20.5,4 0 0 1 41,0 V94 a20.5,4.500 0 0 1 -41,0Z" fill="#2613b4"/>
<ellipse cx="147.5" cy="76" rx="19" ry="3.4" fill="#4a35c8"/>
<rect x="150.300" y="68" width="3.6" height="14" fill="#8b6fc0" opacity=".8"/>
<rect x="127" y="10" width="41" height="19" rx="3" fill="#e5d8c1"/>
<rect x="148" y="10" width="20" height="19" rx="3" fill="#cbb596"/>
<rect x="120" y="25.7" width="51" height="11.3" rx="4.5" fill="#f0e7d4"/>
<path d="M121,33 h49 q0,4 -4,4 h-41 q-4,0 -4,-4z" fill="#d6c9b2"/>
<ellipse cx="139.3" cy="16.5" rx="6.6" ry="8.2" fill="#0c0c0d"/>
<rect x="139" y="100" width="9" height="4.5" fill="#f4efe9" transform="rotate(8 143 102)"/>
<path d="M147,103.5 C135,100 112,104 96,112 S72,126 68,128" stroke="#e0128a" stroke-width="3.1" fill="none" stroke-linecap="round"/>
<path d="M147,103.5 C135,100 112,104 96,112 S72,126 68,128" stroke="#f46ab8" stroke-width="0.9" fill="none" stroke-linecap="round" transform="translate(0,-0.6)"/>
<path d="M136,100.5 l8,3.2" stroke="#d4213f" stroke-width="2.600" stroke-linecap="round"/>
</g>
<polygon points="74.8,106.6 78.2,108.4 6.2,241.7 0.0,238.3" fill="#aeb5bd" opacity=".8"/>
<line x1="74.8" y1="106.6" x2="0.0" y2="238.3" stroke="#4d535a" stroke-width="0.9"/>
<line x1="78.2" y1="108.4" x2="6.2" y2="241.7" stroke="#6a7078" stroke-width="0.9"/>
<ellipse cx="8.1" cy="252.0" rx="17" ry="13" fill="#dfe2e5" opacity=".85"/>
<ellipse cx="7.1" cy="249.0" rx="10" ry="7" fill="#b9bec3" opacity=".7"/>
<ellipse cx="9.1" cy="257.0" rx="12" ry="5" fill="#eef0f2" opacity=".8"/></g>
<g transform="translate(1468.0,758.8)" clip-path="url(#pclip)" filter="url(#pblur)"><rect width="179.2" height="268.0" fill="#c8ccd0"/><g transform="translate(0.7,0)">
<rect x="-14" y="-2" width="207.2" height="24" fill="#cdcbc0"/>
<rect x="-14" y="-2" width="60" height="24" fill="#d6d4ca" opacity=".6"/>
<rect x="-14" y="19.5" width="139" height="24" fill="#877a6b"/>
<rect x="-14" y="37" width="139" height="6" fill="#7d7567"/>
<rect x="-14" y="42" width="139" height="46" fill="#625d52"/>
<g filter="url(#kblur)">
<rect x="-14.0" y="46" width="11.5" height="10" fill="#736f64"/><rect x="-0.3" y="46" width="15.5" height="10" fill="#736f64"/><rect x="17.4" y="46" width="15.5" height="10" fill="#736f64"/><rect x="35.1" y="46" width="15.5" height="10" fill="#736f64"/><rect x="52.8" y="46" width="15.5" height="10" fill="#736f64"/><rect x="70.5" y="46" width="15.5" height="10" fill="#736f64"/><rect x="88.2" y="46" width="15.5" height="10" fill="#736f64"/><rect x="105.9" y="46" width="4.1" height="10" fill="#736f64"/>
<rect x="-14.0" y="53" width="11.0" height="3" fill="#8c887b"/><rect x="0.7" y="53" width="14.0" height="3" fill="#8c887b"/><rect x="18.4" y="53" width="14.0" height="3" fill="#8c887b"/><rect x="36.1" y="53" width="14.0" height="3" fill="#8c887b"/><rect x="53.8" y="53" width="14.0" height="3" fill="#8c887b"/><rect x="71.5" y="53" width="14.0" height="3" fill="#8c887b"/><rect x="89.2" y="53" width="14.0" height="3" fill="#8c887b"/><rect x="106.9" y="53" width="3.1" height="3" fill="#8c887b"/>
<rect x="-14.0" y="66.8" width="5.0" height="4.4" fill="#9c9889"/><rect x="-6.0" y="66.8" width="14.0" height="4.4" fill="#9c9889"/><rect x="11.0" y="66.8" width="14.0" height="4.4" fill="#9c9889"/><rect x="28.0" y="66.8" width="14.0" height="4.4" fill="#9c9889"/><rect x="45.0" y="66.8" width="14.0" height="4.4" fill="#9c9889"/><rect x="62.0" y="66.8" width="14.0" height="4.4" fill="#9c9889"/><rect x="79.0" y="66.8" width="14.0" height="4.4" fill="#9c9889"/><rect x="96.0" y="66.8" width="14.0" height="4.4" fill="#9c9889"/>
<rect x="-14.0" y="77.3" width="7.5" height="6.8" fill="#b2ad9e"/><rect x="-3.9" y="77.3" width="14.5" height="6.8" fill="#b2ad9e"/><rect x="13.2" y="77.3" width="14.5" height="6.8" fill="#b2ad9e"/><rect x="30.3" y="77.3" width="14.5" height="6.8" fill="#b2ad9e"/><rect x="47.4" y="77.3" width="14.5" height="6.8" fill="#b2ad9e"/><rect x="64.5" y="77.3" width="14.5" height="6.8" fill="#b2ad9e"/><rect x="81.6" y="77.3" width="14.5" height="6.8" fill="#b2ad9e"/><rect x="98.7" y="77.3" width="11.3" height="6.8" fill="#b2ad9e"/>
</g>
<rect x="-14" y="88.6" width="100" height="7" fill="#bdb5a6"/>
<rect x="-14" y="95.4" width="144" height="175" fill="url(#floor2)"/>
<rect x="62" y="-2" width="9.5" height="116" fill="#8e9091"/><rect x="69" y="-2" width="2.5" height="116" fill="#737576"/>
<rect x="75" y="-2" width="3" height="86" fill="#7a7c7d"/>
<ellipse cx="57" cy="119.5" rx="7.5" ry="4.8" fill="#3b3b3c"/>
<path d="M42,268V196C42,180 50,172 62,171.500H195V268Z" fill="#ffd21f"/>
<path d="M42,268V196C42,180 50,172 62,171.500C57,179 56,187 56,197V268Z" fill="#f2bc1a"/>
<path d="M58,268V199C58,185 64,177.500 76,176.500H195V268Z" fill="#ffd829"/>
<path d="M44,258 Q60,262 100,262 H195 V270 H44Z" fill="#dd9f12" opacity=".85"/>
<rect x="74.2" y="180.2" width="130" height="70.2" rx="8" fill="#20262b"/>
<ellipse cx="125" cy="227" rx="50" ry="13" fill="#5a656e" opacity=".42"/>
<ellipse cx="90" cy="222" rx="6" ry="12" fill="#9aa4ac" opacity=".35"/>
<path d="M118,250.4 q14,-11 30,0z" fill="#15191c"/>
<rect x="87.9" y="182" width="67.1" height="10.6" fill="#f8f6f4"/>
<path d="M100,187.3h36" stroke="#f0a0b0" stroke-width="1" stroke-dasharray="3 2"/>
<rect x="88.3" y="195.2" width="47.7" height="14.6" fill="#dde8dc"/>
<rect x="89.5" y="196" width="22" height="6.5" fill="#5f9f84"/><rect x="113.500" y="196" width="21.5" height="6.5" fill="#5f9f84"/>
<path d="M76,194.4L160,193.3Q172,192.500 182,187.500" stroke="#8c3426" stroke-width="0.9" fill="none"/>
<path d="M55,164 L195,168 V176 L64,174.500 Q56,172 55,164Z" fill="#2f2612"/>
<path d="M55,164 Q58,178 50,190 L58,176Z" fill="#c9a028" opacity=".8"/>
<path d="M60,124 Q58,150 70,166 Q90,171 120,171 L195,171 V146 L76,141Z" fill="#e9d9d1"/>
<path d="M62,150 Q64,162 72,166 L120,171 H195 V167 L120,167 Q80,166 62,150Z" fill="#d8c6bd"/>
<path d="M70,88 Q72,83 80,83 L112,81.5 L104,111 L195,124 V148 L78,142.5 Q62,140 61,124 Z" fill="#f5f2ee"/>
<rect x="93.4" y="150.6" width="26.3" height="20" rx="2.5" fill="#5d4e3f"/>
<circle cx="153" cy="163" r="0.9" fill="#6b5a50"/>
<path d="M116.2,5 Q116.600,3 119.500,2.800 L195,0 V118 L171,124 Q168,124.500 165,124 L103.5,112.8 Q100.800,112 101.500,108.500Z" fill="#222223"/>
<path d="M171,124 L195,118 V0 L176,2 L172,30Z" fill="#262628"/>
<rect x="129.5" y="36" width="39.5" height="54" fill="#322f2e"/>
<rect x="149" y="38" width="19.5" height="40" fill="#5d584c" opacity=".85"/>
<rect x="150.300" y="38" width="3.6" height="48" fill="#8a7a9e"/>
<ellipse cx="145.5" cy="107" rx="25" ry="6.3" fill="#f0e4d2"/>
<path d="M120.5,97 h50 v10 a25,6.3 0 0 1 -50,0z" fill="#cdbda6"/>
<ellipse cx="145.5" cy="106.5" rx="24" ry="4.6" fill="#efe3d0"/>
<path d="M121.5,95 h48 v6.5 a24,5 0 0 1 -48,0z" fill="#a9a097"/>
<path d="M127,76 a20.5,4 0 0 1 41,0 V94 a20.5,4.500 0 0 1 -41,0Z" fill="#2613b4"/>
<ellipse cx="147.5" cy="76" rx="19" ry="3.4" fill="#4a35c8"/>
<rect x="150.300" y="68" width="3.6" height="14" fill="#8b6fc0" opacity=".8"/>
<rect x="127" y="10" width="41" height="19" rx="3" fill="#e5d8c1"/>
<rect x="148" y="10" width="20" height="19" rx="3" fill="#cbb596"/>
<rect x="120" y="25.7" width="51" height="11.3" rx="4.5" fill="#f0e7d4"/>
<path d="M121,33 h49 q0,4 -4,4 h-41 q-4,0 -4,-4z" fill="#d6c9b2"/>
<ellipse cx="139.3" cy="16.5" rx="6.6" ry="8.2" fill="#0c0c0d"/>
<rect x="139" y="100" width="9" height="4.5" fill="#f4efe9" transform="rotate(8 143 102)"/>
<path d="M143,103.5 C132,96 104,94 84,97 S62,108 56,113" stroke="#e0128a" stroke-width="3.1" fill="none" stroke-linecap="round"/>
<path d="M143,103.5 C132,96 104,94 84,97 S62,108 56,113" stroke="#f46ab8" stroke-width="0.9" fill="none" stroke-linecap="round" transform="translate(0,-0.6)"/>
<path d="M136,100.5 l8,3.2" stroke="#d4213f" stroke-width="2.600" stroke-linecap="round"/>
</g>
<polygon points="55.5,112.0 59.7,114.0 9.3,231.7 1.5,228.3" fill="#aeb5bd" opacity=".8"/>
<line x1="55.5" y1="112.0" x2="1.5" y2="228.3" stroke="#4d535a" stroke-width="0.9"/>
<line x1="59.7" y1="114.0" x2="9.3" y2="231.7" stroke="#6a7078" stroke-width="0.9"/>
<ellipse cx="10.4" cy="242.0" rx="17" ry="13" fill="#dfe2e5" opacity=".85"/>
<ellipse cx="9.4" cy="239.0" rx="10" ry="7" fill="#b9bec3" opacity=".7"/>
<ellipse cx="11.4" cy="247.0" rx="12" ry="5" fill="#eef0f2" opacity=".8"/></g>
<g transform="translate(1043.8,1043.5)" clip-path="url(#pclip)" filter="url(#pblur)"><rect width="179.2" height="268.0" fill="#c8ccd0"/><g transform="translate(-6,0)">
<rect x="-14" y="-2" width="207.2" height="24" fill="#cdcbc0"/>
<rect x="-14" y="-2" width="60" height="24" fill="#d6d4ca" opacity=".6"/>
<rect x="-14" y="19.5" width="139" height="24" fill="#877a6b"/>
<rect x="-14" y="37" width="139" height="6" fill="#7d7567"/>
<rect x="-14" y="42" width="139" height="46" fill="#625d52"/>
<g filter="url(#kblur)">
<rect x="-14.0" y="46" width="11.5" height="10" fill="#736f64"/><rect x="-0.3" y="46" width="15.5" height="10" fill="#736f64"/><rect x="17.4" y="46" width="15.5" height="10" fill="#736f64"/><rect x="35.1" y="46" width="15.5" height="10" fill="#736f64"/><rect x="52.8" y="46" width="15.5" height="10" fill="#736f64"/><rect x="70.5" y="46" width="15.5" height="10" fill="#736f64"/><rect x="88.2" y="46" width="15.5" height="10" fill="#736f64"/><rect x="105.9" y="46" width="4.1" height="10" fill="#736f64"/>
<rect x="-14.0" y="53" width="11.0" height="3" fill="#8c887b"/><rect x="0.7" y="53" width="14.0" height="3" fill="#8c887b"/><rect x="18.4" y="53" width="14.0" height="3" fill="#8c887b"/><rect x="36.1" y="53" width="14.0" height="3" fill="#8c887b"/><rect x="53.8" y="53" width="14.0" height="3" fill="#8c887b"/><rect x="71.5" y="53" width="14.0" height="3" fill="#8c887b"/><rect x="89.2" y="53" width="14.0" height="3" fill="#8c887b"/><rect x="106.9" y="53" width="3.1" height="3" fill="#8c887b"/>
<rect x="-14.0" y="66.8" width="5.0" height="4.4" fill="#9c9889"/><rect x="-6.0" y="66.8" width="14.0" height="4.4" fill="#9c9889"/><rect x="11.0" y="66.8" width="14.0" height="4.4" fill="#9c9889"/><rect x="28.0" y="66.8" width="14.0" height="4.4" fill="#9c9889"/><rect x="45.0" y="66.8" width="14.0" height="4.4" fill="#9c9889"/><rect x="62.0" y="66.8" width="14.0" height="4.4" fill="#9c9889"/><rect x="79.0" y="66.8" width="14.0" height="4.4" fill="#9c9889"/><rect x="96.0" y="66.8" width="14.0" height="4.4" fill="#9c9889"/>
<rect x="-14.0" y="77.3" width="7.5" height="6.8" fill="#b2ad9e"/><rect x="-3.9" y="77.3" width="14.5" height="6.8" fill="#b2ad9e"/><rect x="13.2" y="77.3" width="14.5" height="6.8" fill="#b2ad9e"/><rect x="30.3" y="77.3" width="14.5" height="6.8" fill="#b2ad9e"/><rect x="47.4" y="77.3" width="14.5" height="6.8" fill="#b2ad9e"/><rect x="64.5" y="77.3" width="14.5" height="6.8" fill="#b2ad9e"/><rect x="81.6" y="77.3" width="14.5" height="6.8" fill="#b2ad9e"/><rect x="98.7" y="77.3" width="11.3" height="6.8" fill="#b2ad9e"/>
</g>
<rect x="-14" y="88.6" width="100" height="7" fill="#bdb5a6"/>
<rect x="-14" y="95.4" width="144" height="175" fill="url(#floor3)"/>
<rect x="62" y="-2" width="9.5" height="116" fill="#8e9091"/><rect x="69" y="-2" width="2.5" height="116" fill="#737576"/>
<rect x="75" y="-2" width="3" height="86" fill="#7a7c7d"/>
<ellipse cx="57" cy="119.5" rx="7.5" ry="4.8" fill="#3b3b3c"/>
<path d="M42,268V196C42,180 50,172 62,171.500H195V268Z" fill="#ffd21f"/>
<path d="M42,268V196C42,180 50,172 62,171.500C57,179 56,187 56,197V268Z" fill="#f2bc1a"/>
<path d="M58,268V199C58,185 64,177.500 76,176.500H195V268Z" fill="#ffd829"/>
<path d="M44,258 Q60,262 100,262 H195 V270 H44Z" fill="#dd9f12" opacity=".85"/>
<rect x="74.2" y="180.2" width="130" height="70.2" rx="8" fill="#20262b"/>
<ellipse cx="125" cy="227" rx="50" ry="13" fill="#5a656e" opacity=".42"/>
<ellipse cx="90" cy="222" rx="6" ry="12" fill="#9aa4ac" opacity=".35"/>
<path d="M118,250.4 q14,-11 30,0z" fill="#15191c"/>
<rect x="87.9" y="182" width="67.1" height="10.6" fill="#f8f6f4"/>
<path d="M100,187.3h36" stroke="#f0a0b0" stroke-width="1" stroke-dasharray="3 2"/>
<rect x="88.3" y="195.2" width="47.7" height="14.6" fill="#dde8dc"/>
<rect x="89.5" y="196" width="22" height="6.5" fill="#5f9f84"/><rect x="113.500" y="196" width="21.5" height="6.5" fill="#5f9f84"/>
<path d="M76,194.4L160,193.3Q172,192.500 182,187.500" stroke="#8c3426" stroke-width="0.9" fill="none"/>
<path d="M55,164 L195,168 V176 L64,174.500 Q56,172 55,164Z" fill="#2f2612"/>
<path d="M55,164 Q58,178 50,190 L58,176Z" fill="#c9a028" opacity=".8"/>
<path d="M60,124 Q58,150 70,166 Q90,171 120,171 L195,171 V146 L76,141Z" fill="#e9d9d1"/>
<path d="M62,150 Q64,162 72,166 L120,171 H195 V167 L120,167 Q80,166 62,150Z" fill="#d8c6bd"/>
<path d="M70,88 Q72,83 80,83 L112,81.5 L104,111 L195,124 V148 L78,142.5 Q62,140 61,124 Z" fill="#f5f2ee"/>
<rect x="93.4" y="150.6" width="26.3" height="20" rx="2.5" fill="#5d4e3f"/>
<circle cx="153" cy="163" r="0.9" fill="#6b5a50"/>
<path d="M116.2,5 Q116.600,3 119.500,2.800 L195,0 V118 L171,124 Q168,124.500 165,124 L103.5,112.8 Q100.800,112 101.500,108.500Z" fill="#222223"/>
<path d="M171,124 L195,118 V0 L176,2 L172,30Z" fill="#262628"/>
<rect x="129.5" y="36" width="39.5" height="54" fill="#322f2e"/>
<rect x="149" y="38" width="19.5" height="40" fill="#5d584c" opacity=".85"/>
<rect x="150.300" y="38" width="3.6" height="48" fill="#8a7a9e"/>
<ellipse cx="145.5" cy="107" rx="25" ry="6.3" fill="#f0e4d2"/>
<path d="M120.5,97 h50 v10 a25,6.3 0 0 1 -50,0z" fill="#cdbda6"/>
<ellipse cx="145.5" cy="106.5" rx="24" ry="4.6" fill="#efe3d0"/>
<path d="M121.5,95 h48 v6.5 a24,5 0 0 1 -48,0z" fill="#a9a097"/>
<path d="M127,76 a20.5,4 0 0 1 41,0 V94 a20.5,4.500 0 0 1 -41,0Z" fill="#2613b4"/>
<ellipse cx="147.5" cy="76" rx="19" ry="3.4" fill="#4a35c8"/>
<rect x="150.300" y="68" width="3.6" height="14" fill="#8b6fc0" opacity=".8"/>
<rect x="127" y="10" width="41" height="19" rx="3" fill="#e5d8c1"/>
<rect x="148" y="10" width="20" height="19" rx="3" fill="#cbb596"/>
<rect x="120" y="25.7" width="51" height="11.3" rx="4.5" fill="#f0e7d4"/>
<path d="M121,33 h49 q0,4 -4,4 h-41 q-4,0 -4,-4z" fill="#d6c9b2"/>
<ellipse cx="139.3" cy="16.5" rx="6.6" ry="8.2" fill="#0c0c0d"/>
<rect x="139" y="100" width="9" height="4.5" fill="#f4efe9" transform="rotate(8 143 102)"/>
<path d="M143,103.5 C130,98 106,99 90,107 S70,121 66,126" stroke="#e0128a" stroke-width="3.1" fill="none" stroke-linecap="round"/>
<path d="M143,103.5 C130,98 106,99 90,107 S70,121 66,126" stroke="#f46ab8" stroke-width="0.9" fill="none" stroke-linecap="round" transform="translate(0,-0.6)"/>
<path d="M136,100.5 l8,3.2" stroke="#d4213f" stroke-width="2.600" stroke-linecap="round"/>
</g>
<polygon points="57.9,120.0 61.1,121.4 9.0,241.9 3.0,239.3" fill="#aeb5bd" opacity=".8"/>
<line x1="57.9" y1="120.0" x2="3.0" y2="239.3" stroke="#4d535a" stroke-width="0.9"/>
<line x1="61.1" y1="121.4" x2="9.0" y2="241.9" stroke="#6a7078" stroke-width="0.9"/>
<polygon points="23.8,187.5 35.2,188.5 13.0,241.3 0.6,236.3" fill="#2a1ec8"/>
<ellipse cx="11.0" cy="252.6" rx="17" ry="13" fill="#dfe2e5" opacity=".85"/>
<ellipse cx="10.0" cy="249.6" rx="10" ry="7" fill="#b9bec3" opacity=".7"/>
<ellipse cx="12.0" cy="257.6" rx="12" ry="5" fill="#eef0f2" opacity=".8"/></g>
<g transform="translate(1256.0,1043.5)" clip-path="url(#pclip)" filter="url(#pblur)"><rect width="179.2" height="268.0" fill="#c8ccd0"/><g transform="translate(-3,0)">
<rect x="-14" y="-2" width="207.2" height="24" fill="#cdcbc0"/>
<rect x="-14" y="-2" width="60" height="24" fill="#d6d4ca" opacity=".6"/>
<rect x="-14" y="19.5" width="139" height="24" fill="#877a6b"/>
<rect x="-14" y="37" width="139" height="6" fill="#7d7567"/>
<rect x="-14" y="42" width="139" height="46" fill="#625d52"/>
<g filter="url(#kblur)">
<rect x="-14.0" y="46" width="11.5" height="10" fill="#736f64"/><rect x="-0.3" y="46" width="15.5" height="10" fill="#736f64"/><rect x="17.4" y="46" width="15.5" height="10" fill="#736f64"/><rect x="35.1" y="46" width="15.5" height="10" fill="#736f64"/><rect x="52.8" y="46" width="15.5" height="10" fill="#736f64"/><rect x="70.5" y="46" width="15.5" height="10" fill="#736f64"/><rect x="88.2" y="46" width="15.5" height="10" fill="#736f64"/><rect x="105.9" y="46" width="4.1" height="10" fill="#736f64"/>
<rect x="-14.0" y="53" width="11.0" height="3" fill="#8c887b"/><rect x="0.7" y="53" width="14.0" height="3" fill="#8c887b"/><rect x="18.4" y="53" width="14.0" height="3" fill="#8c887b"/><rect x="36.1" y="53" width="14.0" height="3" fill="#8c887b"/><rect x="53.8" y="53" width="14.0" height="3" fill="#8c887b"/><rect x="71.5" y="53" width="14.0" height="3" fill="#8c887b"/><rect x="89.2" y="53" width="14.0" height="3" fill="#8c887b"/><rect x="106.9" y="53" width="3.1" height="3" fill="#8c887b"/>
<rect x="-14.0" y="66.8" width="5.0" height="4.4" fill="#9c9889"/><rect x="-6.0" y="66.8" width="14.0" height="4.4" fill="#9c9889"/><rect x="11.0" y="66.8" width="14.0" height="4.4" fill="#9c9889"/><rect x="28.0" y="66.8" width="14.0" height="4.4" fill="#9c9889"/><rect x="45.0" y="66.8" width="14.0" height="4.4" fill="#9c9889"/><rect x="62.0" y="66.8" width="14.0" height="4.4" fill="#9c9889"/><rect x="79.0" y="66.8" width="14.0" height="4.4" fill="#9c9889"/><rect x="96.0" y="66.8" width="14.0" height="4.4" fill="#9c9889"/>
<rect x="-14.0" y="77.3" width="7.5" height="6.8" fill="#b2ad9e"/><rect x="-3.9" y="77.3" width="14.5" height="6.8" fill="#b2ad9e"/><rect x="13.2" y="77.3" width="14.5" height="6.8" fill="#b2ad9e"/><rect x="30.3" y="77.3" width="14.5" height="6.8" fill="#b2ad9e"/><rect x="47.4" y="77.3" width="14.5" height="6.8" fill="#b2ad9e"/><rect x="64.5" y="77.3" width="14.5" height="6.8" fill="#b2ad9e"/><rect x="81.6" y="77.3" width="14.5" height="6.8" fill="#b2ad9e"/><rect x="98.7" y="77.3" width="11.3" height="6.8" fill="#b2ad9e"/>
</g>
<rect x="-14" y="88.6" width="100" height="7" fill="#bdb5a6"/>
<rect x="-14" y="95.4" width="144" height="175" fill="url(#floor4)"/>
<rect x="62" y="-2" width="9.5" height="116" fill="#8e9091"/><rect x="69" y="-2" width="2.5" height="116" fill="#737576"/>
<rect x="75" y="-2" width="3" height="86" fill="#7a7c7d"/>
<ellipse cx="57" cy="119.5" rx="7.5" ry="4.8" fill="#3b3b3c"/>
<path d="M42,268V196C42,180 50,172 62,171.500H195V268Z" fill="#ffd21f"/>
<path d="M42,268V196C42,180 50,172 62,171.500C57,179 56,187 56,197V268Z" fill="#f2bc1a"/>
<path d="M58,268V199C58,185 64,177.500 76,176.500H195V268Z" fill="#ffd829"/>
<path d="M44,258 Q60,262 100,262 H195 V270 H44Z" fill="#dd9f12" opacity=".85"/>
<rect x="74.2" y="180.2" width="130" height="70.2" rx="8" fill="#20262b"/>
<ellipse cx="125" cy="227" rx="50" ry="13" fill="#5a656e" opacity=".42"/>
<ellipse cx="90" cy="222" rx="6" ry="12" fill="#9aa4ac" opacity=".35"/>
<path d="M118,250.4 q14,-11 30,0z" fill="#15191c"/>
<rect x="87.9" y="182" width="67.1" height="10.6" fill="#f8f6f4"/>
<path d="M100,187.3h36" stroke="#f0a0b0" stroke-width="1" stroke-dasharray="3 2"/>
<rect x="88.3" y="195.2" width="47.7" height="14.6" fill="#dde8dc"/>
<rect x="89.5" y="196" width="22" height="6.5" fill="#5f9f84"/><rect x="113.500" y="196" width="21.5" height="6.5" fill="#5f9f84"/>
<path d="M76,194.4L160,193.3Q172,192.500 182,187.500" stroke="#8c3426" stroke-width="0.9" fill="none"/>
<path d="M55,164 L195,168 V176 L64,174.500 Q56,172 55,164Z" fill="#2f2612"/>
<path d="M55,164 Q58,178 50,190 L58,176Z" fill="#c9a028" opacity=".8"/>
<path d="M60,124 Q58,150 70,166 Q90,171 120,171 L195,171 V146 L76,141Z" fill="#e9d9d1"/>
<path d="M62,150 Q64,162 72,166 L120,171 H195 V167 L120,167 Q80,166 62,150Z" fill="#d8c6bd"/>
<path d="M70,88 Q72,83 80,83 L112,81.5 L104,111 L195,124 V148 L78,142.5 Q62,140 61,124 Z" fill="#f5f2ee"/>
<rect x="93.4" y="150.6" width="26.3" height="20" rx="2.5" fill="#5d4e3f"/>
<circle cx="153" cy="163" r="0.9" fill="#6b5a50"/>
<path d="M116.2,5 Q116.600,3 119.500,2.800 L195,0 V118 L171,124 Q168,124.500 165,124 L103.5,112.8 Q100.800,112 101.500,108.500Z" fill="#222223"/>
<path d="M171,124 L195,118 V0 L176,2 L172,30Z" fill="#262628"/>
<rect x="129.5" y="36" width="39.5" height="54" fill="#322f2e"/>
<rect x="149" y="38" width="19.5" height="40" fill="#5d584c" opacity=".85"/>
<rect x="150.300" y="38" width="3.6" height="48" fill="#8a7a9e"/>
<ellipse cx="145.5" cy="107" rx="25" ry="6.3" fill="#f0e4d2"/>
<path d="M120.5,97 h50 v10 a25,6.3 0 0 1 -50,0z" fill="#cdbda6"/>
<ellipse cx="145.5" cy="106.5" rx="24" ry="4.6" fill="#efe3d0"/>
<path d="M121.5,95 h48 v6.5 a24,5 0 0 1 -48,0z" fill="#a9a097"/>
<path d="M127,84 a20.5,4 0 0 1 41,0 V94 a20.5,4.500 0 0 1 -41,0Z" fill="#2613b4"/>
<ellipse cx="147.5" cy="84" rx="19" ry="3.4" fill="#4a35c8"/>
<rect x="150.300" y="76" width="3.6" height="14" fill="#8b6fc0" opacity=".8"/>
<rect x="127" y="10" width="41" height="19" rx="3" fill="#e5d8c1"/>
<rect x="148" y="10" width="20" height="19" rx="3" fill="#cbb596"/>
<rect x="120" y="25.7" width="51" height="11.3" rx="4.5" fill="#f0e7d4"/>
<path d="M121,33 h49 q0,4 -4,4 h-41 q-4,0 -4,-4z" fill="#d6c9b2"/>
<ellipse cx="139.3" cy="16.5" rx="6.6" ry="8.2" fill="#0c0c0d"/>
<rect x="139" y="100" width="9" height="4.5" fill="#f4efe9" transform="rotate(8 143 102)"/>
<path d="M140,103.5 C128,94 100,92 80,96 S62,100 58,104" stroke="#e0128a" stroke-width="3.1" fill="none" stroke-linecap="round"/>
<path d="M140,103.5 C128,94 100,92 80,96 S62,100 58,104" stroke="#f46ab8" stroke-width="0.9" fill="none" stroke-linecap="round" transform="translate(0,-0.6)"/>
<path d="M136,100.5 l8,3.2" stroke="#d4213f" stroke-width="2.600" stroke-linecap="round"/>
</g>
<polygon points="59.6,102.1 63.0,103.1 25.6,237.4 19.4,235.6" fill="#aeb5bd" opacity=".8"/>
<line x1="59.6" y1="102.1" x2="19.4" y2="235.6" stroke="#4d535a" stroke-width="0.9"/>
<line x1="63.0" y1="103.1" x2="25.6" y2="237.4" stroke="#6a7078" stroke-width="0.9"/>
<polygon points="27.2,200.2 38.7,200.8 29.3,236.2 16.9,232.8" fill="#2a1ec8"/>
<ellipse cx="27.5" cy="248.5" rx="17" ry="13" fill="#dfe2e5" opacity=".85"/>
<ellipse cx="26.5" cy="245.5" rx="10" ry="7" fill="#b9bec3" opacity=".7"/>
<ellipse cx="28.5" cy="253.5" rx="12" ry="5" fill="#eef0f2" opacity=".8"/></g>
<g transform="translate(1468.0,1043.5)" clip-path="url(#pclip)" filter="url(#pblur)"><rect width="179.2" height="268.0" fill="#c8ccd0"/><g transform="translate(-7,0)">
<rect x="-14" y="-2" width="207.2" height="24" fill="#cdcbc0"/>
<rect x="-14" y="-2" width="60" height="24" fill="#d6d4ca" opacity=".6"/>
<rect x="-14" y="19.5" width="139" height="24" fill="#877a6b"/>
<rect x="-14" y="37" width="139" height="6" fill="#7d7567"/>
<rect x="-14" y="42" width="139" height="46" fill="#625d52"/>
<g filter="url(#kblur)">
<rect x="-14.0" y="46" width="11.5" height="10" fill="#736f64"/><rect x="-0.3" y="46" width="15.5" height="10" fill="#736f64"/><rect x="17.4" y="46" width="15.5" height="10" fill="#736f64"/><rect x="35.1" y="46" width="15.5" height="10" fill="#736f64"/><rect x="52.8" y="46" width="15.5" height="10" fill="#736f64"/><rect x="70.5" y="46" width="15.5" height="10" fill="#736f64"/><rect x="88.2" y="46" width="15.5" height="10" fill="#736f64"/><rect x="105.9" y="46" width="4.1" height="10" fill="#736f64"/>
<rect x="-14.0" y="53" width="11.0" height="3" fill="#8c887b"/><rect x="0.7" y="53" width="14.0" height="3" fill="#8c887b"/><rect x="18.4" y="53" width="14.0" height="3" fill="#8c887b"/><rect x="36.1" y="53" width="14.0" height="3" fill="#8c887b"/><rect x="53.8" y="53" width="14.0" height="3" fill="#8c887b"/><rect x="71.5" y="53" width="14.0" height="3" fill="#8c887b"/><rect x="89.2" y="53" width="14.0" height="3" fill="#8c887b"/><rect x="106.9" y="53" width="3.1" height="3" fill="#8c887b"/>
<rect x="-14.0" y="66.8" width="5.0" height="4.4" fill="#9c9889"/><rect x="-6.0" y="66.8" width="14.0" height="4.4" fill="#9c9889"/><rect x="11.0" y="66.8" width="14.0" height="4.4" fill="#9c9889"/><rect x="28.0" y="66.8" width="14.0" height="4.4" fill="#9c9889"/><rect x="45.0" y="66.8" width="14.0" height="4.4" fill="#9c9889"/><rect x="62.0" y="66.8" width="14.0" height="4.4" fill="#9c9889"/><rect x="79.0" y="66.8" width="14.0" height="4.4" fill="#9c9889"/><rect x="96.0" y="66.8" width="14.0" height="4.4" fill="#9c9889"/>
<rect x="-14.0" y="77.3" width="7.5" height="6.8" fill="#b2ad9e"/><rect x="-3.9" y="77.3" width="14.5" height="6.8" fill="#b2ad9e"/><rect x="13.2" y="77.3" width="14.5" height="6.8" fill="#b2ad9e"/><rect x="30.3" y="77.3" width="14.5" height="6.8" fill="#b2ad9e"/><rect x="47.4" y="77.3" width="14.5" height="6.8" fill="#b2ad9e"/><rect x="64.5" y="77.3" width="14.5" height="6.8" fill="#b2ad9e"/><rect x="81.6" y="77.3" width="14.5" height="6.8" fill="#b2ad9e"/><rect x="98.7" y="77.3" width="11.3" height="6.8" fill="#b2ad9e"/>
</g>
<rect x="-14" y="88.6" width="100" height="7" fill="#bdb5a6"/>
<rect x="-14" y="95.4" width="144" height="175" fill="url(#floor5)"/>
<rect x="62" y="-2" width="9.5" height="116" fill="#8e9091"/><rect x="69" y="-2" width="2.5" height="116" fill="#737576"/>
<rect x="75" y="-2" width="3" height="86" fill="#7a7c7d"/>
<ellipse cx="57" cy="119.5" rx="7.5" ry="4.8" fill="#3b3b3c"/>
<path d="M42,268V196C42,180 50,172 62,171.500H195V268Z" fill="#ffd21f"/>
<path d="M42,268V196C42,180 50,172 62,171.500C57,179 56,187 56,197V268Z" fill="#f2bc1a"/>
<path d="M58,268V199C58,185 64,177.500 76,176.500H195V268Z" fill="#ffd829"/>
<path d="M44,258 Q60,262 100,262 H195 V270 H44Z" fill="#dd9f12" opacity=".85"/>
<rect x="74.2" y="180.2" width="130" height="70.2" rx="8" fill="#20262b"/>
<ellipse cx="125" cy="227" rx="50" ry="13" fill="#5a656e" opacity=".42"/>
<ellipse cx="90" cy="222" rx="6" ry="12" fill="#9aa4ac" opacity=".35"/>
<path d="M118,250.4 q14,-11 30,0z" fill="#15191c"/>
<rect x="87.9" y="182" width="67.1" height="10.6" fill="#f8f6f4"/>
<path d="M100,187.3h36" stroke="#f0a0b0" stroke-width="1" stroke-dasharray="3 2"/>
<rect x="88.3" y="195.2" width="47.7" height="14.6" fill="#dde8dc"/>
<rect x="89.5" y="196" width="22" height="6.5" fill="#5f9f84"/><rect x="113.500" y="196" width="21.5" height="6.5" fill="#5f9f84"/>
<path d="M76,194.4L160,193.3Q172,192.500 182,187.500" stroke="#8c3426" stroke-width="0.9" fill="none"/>
<path d="M55,164 L195,168 V176 L64,174.500 Q56,172 55,164Z" fill="#2f2612"/>
<path d="M55,164 Q58,178 50,190 L58,176Z" fill="#c9a028" opacity=".8"/>
<path d="M60,124 Q58,150 70,166 Q90,171 120,171 L195,171 V146 L76,141Z" fill="#e9d9d1"/>
<path d="M62,150 Q64,162 72,166 L120,171 H195 V167 L120,167 Q80,166 62,150Z" fill="#d8c6bd"/>
<path d="M70,88 Q72,83 80,83 L112,81.5 L104,111 L195,124 V148 L78,142.5 Q62,140 61,124 Z" fill="#f5f2ee"/>
<rect x="93.4" y="150.6" width="26.3" height="20" rx="2.5" fill="#5d4e3f"/>
<circle cx="153" cy="163" r="0.9" fill="#6b5a50"/>
<path d="M116.2,5 Q116.600,3 119.500,2.800 L195,0 V118 L171,124 Q168,124.500 165,124 L103.5,112.8 Q100.800,112 101.500,108.500Z" fill="#222223"/>
<path d="M171,124 L195,118 V0 L176,2 L172,30Z" fill="#262628"/>
<rect x="129.5" y="36" width="39.5" height="54" fill="#322f2e"/>
<rect x="149" y="38" width="19.5" height="40" fill="#5d584c" opacity=".85"/>
<rect x="150.300" y="38" width="3.6" height="48" fill="#8a7a9e"/>
<ellipse cx="145.5" cy="107" rx="25" ry="6.3" fill="#f0e4d2"/>
<path d="M120.5,97 h50 v10 a25,6.3 0 0 1 -50,0z" fill="#cdbda6"/>
<ellipse cx="145.5" cy="106.5" rx="24" ry="4.6" fill="#efe3d0"/>
<path d="M121.5,95 h48 v6.5 a24,5 0 0 1 -48,0z" fill="#a9a097"/>
<path d="M127,60 a20.5,4 0 0 1 41,0 V94 a20.5,4.500 0 0 1 -41,0Z" fill="#2613b4"/>
<ellipse cx="147.5" cy="60" rx="19" ry="3.4" fill="#4a35c8"/>
<rect x="150.300" y="52" width="3.6" height="14" fill="#8b6fc0" opacity=".8"/>
<rect x="127" y="10" width="41" height="19" rx="3" fill="#e5d8c1"/>
<rect x="148" y="10" width="20" height="19" rx="3" fill="#cbb596"/>
<rect x="120" y="25.7" width="51" height="11.3" rx="4.5" fill="#f0e7d4"/>
<path d="M121,33 h49 q0,4 -4,4 h-41 q-4,0 -4,-4z" fill="#d6c9b2"/>
<ellipse cx="139.3" cy="16.5" rx="6.6" ry="8.2" fill="#0c0c0d"/>
<rect x="139" y="100" width="9" height="4.5" fill="#f4efe9" transform="rotate(8 143 102)"/>
<path d="M143,103.5 C132,94 104,92 84,96 S62,106 56,112" stroke="#e0128a" stroke-width="3.1" fill="none" stroke-linecap="round"/>
<path d="M143,103.5 C132,94 104,92 84,96 S62,106 56,112" stroke="#f46ab8" stroke-width="0.9" fill="none" stroke-linecap="round" transform="translate(0,-0.6)"/>
<path d="M136,100.5 l8,3.2" stroke="#d4213f" stroke-width="2.600" stroke-linecap="round"/>
</g>
<polygon points="56.8,109.4 60.4,110.6 17.4,241.8 10.8,239.6" fill="#aeb5bd" opacity=".8"/>
<line x1="56.8" y1="109.4" x2="10.8" y2="239.6" stroke="#4d535a" stroke-width="0.9"/>
<line x1="60.4" y1="110.6" x2="17.4" y2="241.8" stroke="#6a7078" stroke-width="0.9"/>
<polygon points="34.4,164.1 45.7,164.9 20.9,240.7 8.6,236.8" fill="#2a1ec8"/>
<ellipse cx="19.1" cy="252.7" rx="17" ry="13" fill="#dfe2e5" opacity=".85"/>
<ellipse cx="18.1" cy="249.7" rx="10" ry="7" fill="#b9bec3" opacity=".7"/>
<ellipse cx="20.1" cy="257.7" rx="12" ry="5" fill="#eef0f2" opacity=".8"/></g>
<path d="M983.8499999999999,747.85H996.6M1008.15,747.85h15.1M1034.57,747.85h15.1M1060.99,747.85h15.1M1087.41,747.85h15.1M1113.83,747.85h15.1M1140.25,747.85h15.1M1166.67,747.85h15.1M1193.09,747.85h15.1M1219.51,747.85h15.1M1245.93,747.85h15.1M1272.35,747.85h15.1M1298.77,747.85h15.1M1325.19,747.85h15.1M1351.61,747.85h15.1M1378.03,747.85h15.1M1404.45,747.85h15.1M1430.87,747.85h15.1M1457.29,747.85h15.1M1483.71,747.85h15.1M1510.13,747.85h15.1M1536.55,747.85h15.1M1562.97,747.85h15.1M1589.39,747.85h15.1M1615.81,747.85h15.1M1642.23,747.85h15.1M1668,748.20V763.60M1668,774.65V790.05M1668,801.10V816.50M1668,827.55V842.95M1668,854.00V869.40M1668,880.45V895.85M1668,906.90V922.30M1668,933.35V948.75M1668,959.80V975.20M1668,986.25V1001.65M1668,1012.70V1028.10M1646.30,1032.6H1661.40M1619.88,1032.6H1634.98M1593.46,1032.6H1608.56M1567.04,1032.6H1582.14M1540.62,1032.6H1555.72M1514.20,1032.6H1529.30M1487.78,1032.6H1502.88M1461.36,1032.6H1476.46M1434.94,1032.6H1450.04M1408.52,1032.6H1423.62M1382.10,1032.6H1397.20M1355.68,1032.6H1370.78M1329.26,1032.6H1344.36M1302.84,1032.6H1317.94M1276.42,1032.6H1291.52M1250.00,1032.6H1265.10M1223.58,1032.6H1238.68M1197.16,1032.6H1212.26M1170.74,1032.6H1185.84M1144.32,1032.6H1159.42M1117.90,1032.6H1133.00M1091.48,1032.6H1106.58M1065.06,1032.6H1080.16M1038.64,1032.6H1053.74M1012.22,1032.6H1027.32M985.80,1032.6H1000.90M985.8,745.9V751.7M985.8,763.60V778.60M985.8,790.05V805.05M985.8,816.50V831.50M985.8,842.95V857.95M985.8,869.40V884.40M985.8,895.85V910.85M985.8,922.30V937.30M985.8,948.75V963.75M985.8,975.20V990.20M985.8,1001.65V1016.65M985.8,1028.10V1034.55" stroke="#000" stroke-width="3.9" fill="none"/>
<path d="M983.8499999999999,1033.6H996.6M1008.15,1033.6h15.1M1034.57,1033.6h15.1M1060.99,1033.6h15.1M1087.41,1033.6h15.1M1113.83,1033.6h15.1M1140.25,1033.6h15.1M1166.67,1033.6h15.1M1193.09,1033.6h15.1M1219.51,1033.6h15.1M1245.93,1033.6h15.1M1272.35,1033.6h15.1M1298.77,1033.6h15.1M1325.19,1033.6h15.1M1351.61,1033.6h15.1M1378.03,1033.6h15.1M1404.45,1033.6h15.1M1430.87,1033.6h15.1M1457.29,1033.6h15.1M1483.71,1033.6h15.1M1510.13,1033.6h15.1M1536.55,1033.6h15.1M1562.97,1033.6h15.1M1589.39,1033.6h15.1M1615.81,1033.6h15.1M1642.23,1033.6h15.1M1668,1033.95V1049.35M1668,1060.40V1075.80M1668,1086.85V1102.25M1668,1113.30V1128.70M1668,1139.75V1155.15M1668,1166.20V1181.60M1668,1192.65V1208.05M1668,1219.10V1234.50M1668,1245.55V1260.95M1668,1272.00V1287.40M1668,1298.45V1313.85M1646.30,1318.8H1661.40M1619.88,1318.8H1634.98M1593.46,1318.8H1608.56M1567.04,1318.8H1582.14M1540.62,1318.8H1555.72M1514.20,1318.8H1529.30M1487.78,1318.8H1502.88M1461.36,1318.8H1476.46M1434.94,1318.8H1450.04M1408.52,1318.8H1423.62M1382.10,1318.8H1397.20M1355.68,1318.8H1370.78M1329.26,1318.8H1344.36M1302.84,1318.8H1317.94M1276.42,1318.8H1291.52M1250.00,1318.8H1265.10M1223.58,1318.8H1238.68M1197.16,1318.8H1212.26M1170.74,1318.8H1185.84M1144.32,1318.8H1159.42M1117.90,1318.8H1133.00M1091.48,1318.8H1106.58M1065.06,1318.8H1080.16M1038.64,1318.8H1053.74M1012.22,1318.8H1027.32M985.80,1318.8H1000.90M985.8,1031.6499999999999V1037.4499999999998M985.8,1049.35V1064.35M985.8,1075.80V1090.80M985.8,1102.25V1117.25M985.8,1128.70V1143.70M985.8,1155.15V1170.15M985.8,1181.60V1196.60M985.8,1208.05V1223.05M985.8,1234.50V1249.50M985.8,1260.95V1275.95M985.8,1287.40V1302.40M985.8,1313.85V1320.75" stroke="#000" stroke-width="3.9" fill="none"/>
<text transform="translate(1023.6,890) rotate(-90)" font-size="26" text-anchor="middle" fill="#000" font-family='"Liberation Sans", Arial, Helvetica, sans-serif' >Water</text>
<text transform="translate(1023.6,1176.5) rotate(-90)" font-size="26" text-anchor="middle" fill="#000" font-family='"Liberation Sans", Arial, Helvetica, sans-serif' >MeOH</text>
<text x="1132.5" y="1353" font-size="26" text-anchor="middle" fill="#000" font-weight="normal" font-family='"Liberation Sans", Arial, Helvetica, sans-serif' >Cycle 1</text>
<text x="1345" y="1353" font-size="26" text-anchor="middle" fill="#000" font-weight="normal" font-family='"Liberation Sans", Arial, Helvetica, sans-serif' >Cycle 2</text>
<text x="1556.5" y="1353" font-size="26" text-anchor="middle" fill="#000" font-weight="normal" font-family='"Liberation Sans", Arial, Helvetica, sans-serif' >Cycle 3</text>
<text transform="translate(984.7,735.0) scale(0.88,1)" font-size="31" font-weight="bold" stroke="#000" stroke-width="0.7" font-family='"Liberation Sans", Arial, Helvetica, sans-serif'>d</text>
</g>
<g id="panel_e">
<path d="M93.5,1603.3 103.0,1601.1 105.5,1600.3 107.5,1599.4 109.0,1598.3 110.2,1597.0 111.0,1595.6 111.8,1593.4 112.8,1587.8 113.8,1576.5 116.2,1523.6 116.8,1517.3 117.0,1516.5 117.2,1517.3 117.8,1523.5 120.0,1572.1 121.2,1587.1 122.2,1592.6 123.2,1595.1 124.0,1596.2 125.0,1597.0 126.2,1597.6 127.8,1598.0 131.2,1598.2 136.5,1597.9 150.5,1595.9 165.5,1594.0 169.8,1593.2 173.2,1592.4 176.0,1591.5 178.2,1590.4 179.5,1589.5 180.5,1588.3 181.2,1586.9 182.0,1584.9 183.2,1579.5 185.5,1565.1 186.0,1563.4 186.2,1563.1 186.5,1563.2 187.0,1564.7 189.0,1576.3 190.0,1580.6 191.0,1583.2 192.2,1584.6 193.5,1585.0 195.2,1584.9 196.8,1584.4 198.0,1583.4 198.8,1582.2 199.5,1580.5 201.8,1573.7 202.2,1572.9 202.5,1572.8 203.0,1573.2 203.5,1574.4 206.0,1581.9 207.0,1583.5 208.0,1584.5 209.8,1585.0 212.2,1585.0 217.5,1584.1 220.2,1583.1 221.5,1582.3 222.5,1581.1 223.2,1579.6 224.0,1577.1 225.2,1569.7 227.2,1551.7 227.8,1549.2 228.0,1548.8 228.2,1549.2 228.8,1551.7 231.2,1573.2 232.2,1578.0 233.2,1580.6 234.0,1581.7 234.8,1582.4 237.2,1583.8 243.5,1585.8 249.0,1587.0 259.5,1588.1 285.8,1589.8 299.5,1591.2 332.2,1596.0 362.8,1601.1 372.5,1603.0 377.8,1603.5 379.5,1603.5 381.0,1603.1 382.0,1602.6 383.0,1601.5 383.8,1600.1 384.5,1598.1 386.8,1590.0 387.2,1589.1 387.5,1589.0 387.8,1589.1 388.2,1590.1 390.5,1598.5 392.0,1602.0 393.0,1603.3 394.0,1604.0 397.2,1605.1 402.5,1606.1 407.8,1606.7 411.2,1606.8 413.5,1606.4 414.8,1605.6 415.8,1604.3 416.8,1602.2 418.8,1596.7 419.2,1596.0 419.5,1596.0 420.2,1596.9 422.5,1603.3 423.8,1605.7 424.5,1606.6 425.5,1607.4 428.0,1608.3 431.0,1608.9 434.2,1609.2 436.8,1609.3 438.5,1609.0 439.5,1608.5 440.5,1607.5 443.0,1603.2 443.8,1602.7 444.5,1603.3 446.2,1606.6 447.2,1608.0 448.5,1609.0 450.0,1609.5 453.2,1609.9 459.0,1610.2 477.8,1610.3 488.2,1609.7 499.8,1608.3 506.0,1607.1 508.0,1606.4 509.2,1605.6 510.0,1604.9 510.8,1603.7 512.0,1600.0 513.0,1594.9 514.8,1583.1 515.2,1581.2 515.5,1580.9 515.8,1581.1 516.2,1582.9 518.0,1594.3 519.0,1599.2 520.2,1602.5 521.0,1603.5 521.8,1604.0 522.5,1604.2 523.5,1604.2 525.0,1603.7 526.2,1602.5 528.0,1600.3 528.8,1599.8 529.5,1600.0 531.2,1601.7 532.2,1602.4 533.2,1602.7 534.5,1602.8 538.8,1602.2 542.5,1600.4 545.8,1601.4 548.0,1601.4 553.5,1600.8 560.2,1599.6 579.8,1595.0 593.0,1591.4 607.0,1587.0 615.0,1583.7 622.8,1581.5 628.5,1578.3 636.2,1575.0 643.5,1571.0 646.8,1568.9 649.5,1566.8 651.8,1564.7 653.5,1562.6 655.8,1558.8 657.2,1554.8 658.5,1549.3 659.5,1542.0 661.0,1522.4 663.5,1467.4 664.0,1461.2 664.2,1460.2 664.5,1460.8 665.0,1466.3 667.5,1517.8 668.2,1528.1 669.2,1537.0 670.0,1540.9 670.8,1542.9 671.0,1543.2 671.5,1543.4 672.5,1542.8 673.0,1542.9 675.5,1548.6 676.5,1549.5 678.2,1549.8 680.0,1549.5 682.2,1548.8 684.8,1547.6 687.8,1545.8 690.5,1543.9 692.8,1542.1 695.2,1539.7 697.2,1537.5 698.8,1535.2 700.0,1532.2 701.0,1528.5 703.0,1519.5 703.8,1517.8 704.0,1517.7 704.5,1518.4 706.5,1524.6 707.5,1526.8 708.0,1527.4 708.8,1527.9 709.5,1528.0 710.5,1527.7 712.8,1526.2 716.0,1523.3 720.5,1518.9 722.8,1516.2 723.8,1514.6 724.8,1512.5 727.2,1505.0 728.0,1503.6 728.2,1503.4 728.8,1503.6 731.0,1506.1 731.8,1506.4 732.5,1506.4 733.8,1505.9 735.0,1505.1 736.5,1503.6 737.8,1502.0 740.0,1498.5 742.2,1494.3 743.8,1490.5 744.8,1486.9 746.2,1478.3 748.5,1457.7 749.0,1454.2 749.5,1452.5 749.8,1452.6 750.2,1454.2 752.2,1468.8 753.2,1474.3 753.8,1476.1 754.5,1477.9 755.0,1478.6 755.8,1479.0 757.0,1478.9 758.5,1478.0 760.5,1476.0 762.5,1473.5 764.0,1470.8 770.2,1457.7 771.0,1456.6 771.5,1456.3 772.0,1456.4 774.2,1458.7 775.5,1459.5 777.0,1459.7 779.5,1459.4" fill="none" stroke="#1fb944" stroke-width="3.8" stroke-linejoin="round" stroke-linecap="butt" />
<path d="M93.5,1703.2 98.5,1703.8 104.0,1704.2 117.0,1704.4 125.2,1703.6 136.0,1701.7 140.2,1700.3 149.8,1696.2 163.8,1691.3 168.8,1689.2 170.5,1688.1 172.0,1686.8 173.0,1685.4 175.0,1682.0 175.8,1681.3 176.5,1681.2 179.0,1682.8 180.2,1683.0 182.2,1682.4 185.5,1680.7 189.0,1678.4 191.2,1676.5 193.0,1674.2 194.2,1671.4 195.2,1668.1 196.0,1664.7 197.0,1658.8 199.0,1644.3 199.5,1641.9 200.0,1641.0 200.5,1641.7 201.0,1643.9 203.5,1660.7 204.2,1664.4 205.2,1668.0 206.5,1670.8 207.8,1672.4 209.5,1673.6 212.0,1674.4 214.8,1674.7 218.2,1674.9 237.2,1674.3 265.5,1674.5 276.2,1675.4 293.0,1677.8 303.5,1680.1 317.8,1683.9 325.8,1686.5 349.0,1694.6 371.0,1701.5 385.5,1705.7 401.2,1709.7 410.5,1711.5 414.2,1712.0 417.5,1712.1 419.2,1712.0 421.8,1711.3 422.8,1711.3 427.0,1713.2 433.2,1715.4 436.8,1716.3 440.2,1716.7 445.0,1716.8 448.8,1716.4 451.0,1715.6 452.5,1714.2 453.8,1712.2 455.0,1708.7 456.0,1704.8 458.2,1693.9 458.8,1692.5 459.2,1692.0 459.8,1692.6 460.2,1694.2 463.5,1710.1 465.2,1715.1 466.5,1717.2 468.2,1719.0 470.5,1720.2 473.8,1721.3 477.2,1722.1 481.8,1722.8 494.0,1723.9 506.5,1724.7 517.2,1724.8 531.2,1724.4 543.0,1723.8 553.0,1722.5 568.2,1720.1 579.2,1717.9 588.2,1715.4 591.2,1714.3 594.5,1712.8 597.2,1711.3 599.2,1709.8 600.5,1708.7 601.8,1707.1 603.8,1703.4 605.2,1699.0 608.0,1688.7 608.8,1686.9 609.2,1686.4 609.8,1686.6 610.5,1687.9 613.5,1697.0 614.5,1699.2 615.8,1701.1 617.0,1702.3 618.5,1703.0 620.5,1703.3 623.0,1703.2 628.2,1702.2 635.8,1700.1 643.8,1697.3 651.0,1694.4 657.2,1691.4 663.8,1687.9 671.0,1683.7 678.8,1678.7 688.8,1671.7 698.0,1664.2 706.8,1656.1 710.5,1652.2 713.8,1648.5 718.0,1643.0 721.2,1637.8 728.0,1625.1 732.8,1614.5 734.5,1611.6 735.8,1610.0 736.5,1609.6 737.0,1609.6 741.0,1611.6 743.2,1612.3 744.8,1612.2 746.5,1611.3 752.2,1607.0 756.2,1603.5 769.5,1590.7 779.5,1580.5" fill="none" stroke="#009cff" stroke-width="3.8" stroke-linejoin="round" stroke-linecap="butt" />
<path d="M93.5,1817.9 101.0,1818.4 105.5,1818.2 107.0,1817.9 108.2,1817.4 109.2,1816.7 110.0,1815.7 111.2,1812.5 112.2,1807.6 113.2,1800.0 114.8,1786.0 115.2,1782.7 115.8,1781.5 116.2,1782.8 116.8,1786.2 119.2,1808.6 120.2,1813.8 121.2,1816.8 122.8,1819.1 125.0,1820.8 129.0,1822.6 133.2,1823.8 138.2,1824.3 145.2,1824.7 161.5,1824.7 172.8,1824.3 175.8,1823.8 178.0,1823.2 179.0,1822.6 180.0,1821.6 180.8,1820.3 181.5,1818.3 182.8,1812.9 184.8,1801.1 185.2,1799.5 185.5,1799.3 185.8,1799.5 186.2,1801.1 188.5,1814.2 189.8,1819.0 190.5,1820.7 191.2,1821.7 192.2,1822.5 193.8,1823.0 194.8,1823.0 195.8,1822.8 196.5,1822.4 197.2,1821.6 198.5,1819.3 200.5,1814.2 201.0,1813.5 201.2,1813.4 201.8,1813.8 202.2,1814.9 204.8,1821.4 205.8,1822.9 207.0,1824.0 209.2,1824.7 213.2,1825.1 217.5,1825.1 220.2,1824.6 221.8,1823.6 223.0,1821.6 224.0,1818.8 226.0,1811.5 226.5,1810.6 226.8,1810.5 227.0,1810.7 227.5,1811.8 229.8,1821.0 231.2,1824.9 232.2,1826.4 233.2,1827.2 234.8,1828.0 236.8,1828.6 242.8,1829.9 258.5,1832.4 362.2,1848.0 369.0,1848.9 373.8,1849.2 377.2,1849.0 379.2,1848.3 380.5,1847.2 381.5,1845.6 382.5,1843.1 384.5,1836.3 385.0,1835.2 385.5,1834.8 385.8,1834.9 386.2,1835.8 388.8,1844.1 390.2,1847.3 391.2,1848.5 392.2,1849.1 393.8,1849.7 395.8,1850.0 400.2,1850.4 405.2,1850.4 408.2,1850.1 410.2,1849.4 411.5,1848.3 412.5,1846.7 413.5,1844.2 415.2,1839.0 415.8,1838.0 416.2,1837.6 417.0,1838.5 419.5,1845.7 420.2,1847.3 421.2,1848.8 422.2,1849.7 423.8,1850.4 428.8,1851.4 433.5,1852.0 436.5,1852.0 438.0,1851.7 440.5,1850.4 441.2,1850.2 442.0,1850.4 444.2,1851.9 445.8,1852.4 448.2,1852.7 453.0,1852.7 463.8,1852.2 465.2,1851.9 468.0,1851.0 471.2,1851.8 474.8,1851.8 488.5,1851.0 498.2,1849.9 505.2,1848.5 507.2,1847.7 508.5,1846.8 509.5,1845.4 510.2,1843.9 512.8,1835.7 513.2,1834.4 513.8,1833.9 514.0,1833.9 514.5,1834.6 516.5,1840.5 517.5,1842.7 518.8,1844.2 520.0,1844.7 521.0,1844.7 522.0,1844.5 523.5,1843.5 524.8,1841.8 526.8,1838.2 527.5,1837.6 528.2,1838.0 531.0,1842.2 532.0,1843.0 533.2,1843.4 535.0,1843.3 540.0,1842.5 550.0,1841.8 555.0,1841.1 562.5,1839.1 579.0,1833.9 598.0,1828.7 601.8,1827.5 608.8,1824.5 611.8,1823.5 620.2,1821.6 621.8,1820.8 626.0,1818.1 634.2,1815.1 639.2,1812.7 644.0,1809.8 648.0,1806.7 650.0,1804.7 651.2,1803.1 652.8,1800.8 654.0,1798.3 655.0,1795.9 656.0,1792.6 657.2,1786.0 658.2,1777.2 659.0,1767.3 661.8,1709.6 662.2,1703.6 662.5,1702.7 662.8,1703.3 663.2,1708.9 665.8,1760.2 666.5,1770.4 667.5,1779.4 668.2,1783.3 669.0,1785.4 669.2,1785.7 669.8,1785.9 670.8,1785.4 671.2,1785.5 671.8,1786.4 673.5,1790.7 674.2,1791.6 675.5,1792.0 677.0,1792.0 678.8,1791.5 683.0,1789.6 688.8,1786.0 694.2,1781.7 695.8,1780.0 697.0,1778.0 698.0,1775.5 700.0,1769.6 700.8,1768.5 701.0,1768.4 701.5,1768.8 703.5,1772.5 704.5,1773.7 705.8,1774.3 707.0,1774.0 709.0,1773.0 712.0,1770.8 715.5,1767.9 718.2,1765.2 720.2,1763.0 721.5,1761.3 724.0,1756.6 724.8,1755.5 725.2,1755.2 725.8,1755.4 727.5,1757.1 728.8,1757.6 729.5,1757.6 730.2,1757.2 732.0,1755.9 734.5,1753.1 738.0,1748.6 740.0,1745.4 741.5,1742.4 743.2,1737.6 745.8,1726.4 746.2,1724.7 746.8,1723.8 747.0,1723.8 747.2,1724.0 747.8,1725.1 749.5,1731.1 750.5,1733.5 751.8,1735.1 752.5,1735.4 753.2,1735.3 754.2,1734.8 755.8,1733.5 761.2,1727.5 763.0,1724.9 765.5,1719.9 766.2,1719.0 766.8,1718.9 767.2,1719.1 769.8,1720.8 771.2,1720.9 772.8,1720.4 774.5,1719.4 779.5,1716.0" fill="none" stroke="#1fb944" stroke-width="3.8" stroke-linejoin="round" stroke-linecap="butt" />
<path d="M93.5,1983.0 105.5,1981.7 118.5,1979.9 160.8,1971.5 169.0,1969.4 174.5,1967.6 181.2,1964.8 186.5,1962.1 189.2,1959.9 191.2,1957.7 192.8,1955.1 194.0,1951.4 195.0,1946.8 195.8,1942.0 198.2,1919.2 198.8,1916.0 199.2,1914.7 199.5,1914.9 199.8,1915.7 200.2,1918.7 202.0,1934.5 203.0,1941.8 203.8,1945.7 204.8,1949.3 206.0,1952.0 207.5,1953.6 209.8,1954.8 213.0,1955.5 218.5,1955.7 228.0,1955.4 241.0,1954.7 261.8,1953.3 271.5,1953.0 287.0,1953.0 316.8,1953.7 319.0,1953.3 321.8,1952.0 322.5,1951.9 323.2,1952.1 326.2,1954.0 329.2,1954.7 358.0,1957.4 373.0,1958.5 398.2,1960.0 406.0,1960.2 411.8,1960.1 414.5,1959.8 416.5,1959.3 418.0,1958.4 420.2,1956.5 421.2,1956.1 422.2,1956.4 425.2,1958.6 427.5,1959.4 434.5,1959.7 441.8,1959.4 445.2,1958.7 448.0,1957.5 449.8,1956.0 451.2,1953.7 452.2,1951.2 453.2,1947.6 456.5,1929.6 457.0,1927.8 457.5,1927.2 458.0,1927.9 458.5,1929.6 461.2,1945.4 462.2,1949.7 463.2,1952.7 464.5,1955.3 466.0,1957.1 468.0,1958.4 470.5,1959.3 476.2,1960.3 485.5,1960.8 494.0,1960.8 504.8,1960.4 518.8,1959.4 531.2,1958.1 546.8,1955.9 556.5,1954.0 585.8,1946.2 588.5,1945.2 591.2,1943.9 593.8,1942.5 596.0,1940.9 597.5,1939.6 598.8,1938.1 600.0,1936.0 601.0,1933.8 602.8,1928.3 605.5,1916.6 606.2,1914.5 606.8,1914.0 607.2,1914.2 607.8,1915.1 611.0,1926.4 612.0,1928.9 613.2,1931.2 614.5,1932.6 616.0,1933.5 618.0,1934.0 620.5,1934.3 624.2,1933.9 629.2,1932.8 636.2,1930.6 644.8,1927.5 652.2,1924.5 659.5,1921.3 665.8,1918.2 672.0,1914.7 684.8,1906.7 693.2,1901.0 699.0,1896.9 703.2,1893.6 707.2,1890.1 710.8,1886.7 714.0,1883.2 717.0,1879.5 719.8,1875.7 722.2,1871.4 724.8,1866.6 727.2,1860.4 731.8,1846.5 732.8,1844.6 733.5,1844.5 734.2,1845.1 737.0,1848.9 739.8,1852.1 741.0,1853.3 741.8,1853.7 742.5,1853.8 743.5,1853.7 744.8,1853.3 747.0,1851.9 752.0,1848.2 762.8,1837.7 771.5,1830.1 779.5,1823.7" fill="none" stroke="#009cff" stroke-width="3.8" stroke-linejoin="round" stroke-linecap="butt" />
<defs><linearGradient id="ga1" gradientUnits="userSpaceOnUse" x1="0" y1="1663" x2="0" y2="1585"><stop offset="0" stop-color="#00aeef"/><stop offset="0.25" stop-color="#00aeef"/><stop offset="0.42" stop-color="#c5c8ef"/><stop offset="0.62" stop-color="#6fcf7f"/><stop offset="0.7" stop-color="#4fc85a"/><stop offset="1" stop-color="#4fc85a"/></linearGradient></defs><path d="M151.9,1663V1603.5L141.9,1609.5L155.9,1585L169.9,1609.5L159.9,1603.5V1663Z" fill="url(#ga1)"/>
<defs><linearGradient id="ga2" gradientUnits="userSpaceOnUse" x1="0" y1="1784.5" x2="0" y2="1684.25"><stop offset="0" stop-color="#4cc650"/><stop offset="0.12" stop-color="#58c868"/><stop offset="0.42" stop-color="#c5c8ef"/><stop offset="0.62" stop-color="#3bb4ea"/><stop offset="0.75" stop-color="#1eaae8"/><stop offset="1" stop-color="#1eaae8"/></linearGradient></defs><path d="M151.9,1784.5V1702.5L141.9,1708.75L155.9,1684.25L169.9,1708.75L159.9,1702.5V1784.5Z" fill="url(#ga2)"/>
<defs><linearGradient id="ga3" gradientUnits="userSpaceOnUse" x1="0" y1="1939.5" x2="0" y2="1802.5"><stop offset="0" stop-color="#00aeef"/><stop offset="0.25" stop-color="#00aeef"/><stop offset="0.47" stop-color="#c5c8ef"/><stop offset="0.7" stop-color="#6fcf7f"/><stop offset="0.83" stop-color="#3cc83c"/><stop offset="1" stop-color="#3cc83c"/></linearGradient></defs><path d="M151.9,1939.5V1819.5L141.9,1825L155.9,1802.5L169.9,1825L159.9,1819.5V1939.5Z" fill="url(#ga3)"/>
<rect x="93.5" y="1445.0" width="686.0" height="552.0" fill="none" stroke="#231f20" stroke-width="1.1"/>
<line x1="93.5" y1="1997.0" x2="93.5" y2="2009.0" stroke="#231f20" stroke-width="1.1" />
<text x="93.5" y="2036.9" font-size="26" text-anchor="middle" fill="#000" font-weight="normal" font-family='"Liberation Sans", Arial, Helvetica, sans-serif' >2</text>
<line x1="243.95" y1="1997.0" x2="243.95" y2="2009.0" stroke="#231f20" stroke-width="1.1" />
<text x="243.9" y="2036.9" font-size="26" text-anchor="middle" fill="#000" font-weight="normal" font-family='"Liberation Sans", Arial, Helvetica, sans-serif' >3</text>
<line x1="394.4" y1="1997.0" x2="394.4" y2="2009.0" stroke="#231f20" stroke-width="1.1" />
<text x="394.4" y="2036.9" font-size="26" text-anchor="middle" fill="#000" font-weight="normal" font-family='"Liberation Sans", Arial, Helvetica, sans-serif' >4</text>
<line x1="544.85" y1="1997.0" x2="544.85" y2="2009.0" stroke="#231f20" stroke-width="1.1" />
<text x="544.8" y="2036.9" font-size="26" text-anchor="middle" fill="#000" font-weight="normal" font-family='"Liberation Sans", Arial, Helvetica, sans-serif' >5</text>
<line x1="695.3" y1="1997.0" x2="695.3" y2="2009.0" stroke="#231f20" stroke-width="1.1" />
<text x="695.3" y="2036.9" font-size="26" text-anchor="middle" fill="#000" font-weight="normal" font-family='"Liberation Sans", Arial, Helvetica, sans-serif' >6</text>
<line x1="168.72" y1="1997.0" x2="168.72" y2="2003.0" stroke="#231f20" stroke-width="1.1" />
<line x1="319.17" y1="1997.0" x2="319.17" y2="2003.0" stroke="#231f20" stroke-width="1.1" />
<line x1="469.62" y1="1997.0" x2="469.62" y2="2003.0" stroke="#231f20" stroke-width="1.1" />
<line x1="620.07" y1="1997.0" x2="620.07" y2="2003.0" stroke="#231f20" stroke-width="1.1" />
<line x1="770.52" y1="1997.0" x2="770.52" y2="2003.0" stroke="#231f20" stroke-width="1.1" />
<text x="239.25" y="1556.9" font-size="26" text-anchor="start" fill="#1fb944" font-weight="normal" font-family='"Liberation Sans", Arial, Helvetica, sans-serif' >Cycle 2: in MeOH</text>
<text x="239.25" y="1660.5" font-size="26" text-anchor="start" fill="#009cff" font-weight="normal" font-family='"Liberation Sans", Arial, Helvetica, sans-serif' >Cycle 2: in water</text>
<text x="239.25" y="1797.5" font-size="26" text-anchor="start" fill="#1fb944" font-weight="normal" font-family='"Liberation Sans", Arial, Helvetica, sans-serif' >Cycle 1: in MeOH</text>
<text x="239.25" y="1905" font-size="26" text-anchor="start" fill="#009cff" font-weight="normal" font-family='"Liberation Sans", Arial, Helvetica, sans-serif' >Cycle 1: in water</text>
<text x="500" y="1555.5" font-size="26" text-anchor="start" fill="#000" font-weight="normal" font-family='"Liberation Sans", Arial, Helvetica, sans-serif' ><tspan font-weight="bold">CC3</tspan><tspan font-family='"Liberation Serif", "DejaVu Serif", serif' font-weight="normal">γ′</tspan><tspan dx="3.5">-PAN</tspan></text>
<text x="500" y="1795.5" font-size="26" text-anchor="start" fill="#000" font-weight="normal" font-family='"Liberation Sans", Arial, Helvetica, sans-serif' ><tspan font-weight="bold">CC3</tspan><tspan font-family='"Liberation Serif", "DejaVu Serif", serif' font-weight="normal">γ′</tspan><tspan dx="3.5">-PAN</tspan></text>
<text x="500" y="1660" font-size="26" text-anchor="start" fill="#000" font-weight="normal" font-family='"Liberation Sans", Arial, Helvetica, sans-serif' ><tspan font-weight="bold">CC3</tspan><tspan font-family='"Liberation Serif", "DejaVu Serif", serif' font-weight="normal">α</tspan><tspan dx="2">-PAN</tspan></text>
<text x="500" y="1905.5" font-size="26" text-anchor="start" fill="#000" font-weight="normal" font-family='"Liberation Sans", Arial, Helvetica, sans-serif' ><tspan font-weight="bold">CC3</tspan><tspan font-family='"Liberation Serif", "DejaVu Serif", serif' font-weight="normal">α</tspan><tspan dx="2">-PAN</tspan></text>
<text transform="translate(75.5,1721) rotate(-90)" font-size="26" text-anchor="middle" fill="#000" font-family='"Liberation Sans", Arial, Helvetica, sans-serif' >Intensity (a.u.)</text>
<text x="435.5" y="2077.6" font-size="26" text-anchor="middle" fill="#000" font-weight="normal" font-family='"Liberation Sans", Arial, Helvetica, sans-serif' >2<tspan font-family='"Liberation Serif", "DejaVu Serif", serif' font-style="italic">θ</tspan> (°)</text>
<text transform="translate(-1.8,1440.0) scale(0.88,1)" font-size="31" font-weight="bold" stroke="#000" stroke-width="0.7" font-family='"Liberation Sans", Arial, Helvetica, sans-serif'>e</text>
</g>
<g id="panel_f">
<line x1="997.5" y1="1973.75" x2="1673.6" y2="1528.6" stroke="#000" stroke-width="3.6" stroke-dasharray="17.3 21"/>
<circle cx="1038.75" cy="1940.7" r="5.9" fill="#f08030"/>
<circle cx="1096.25" cy="1861.95" r="5.9" fill="#f08030"/>
<circle cx="1079.5" cy="1948.7" r="5.9" fill="#f08030"/>
<circle cx="1086.25" cy="1963.2" r="5.9" fill="#f08030"/>
<circle cx="1060.75" cy="1979.45" r="5.9" fill="#f08030"/>
<circle cx="1349.25" cy="1973.2" r="5.9" fill="#f08030"/>
<path d="M1108.25,1918.7L1115.5,1931.2H1101.0Z" fill="#0a80c4"/>
<path d="M1073.75,1938.95L1081.0,1951.45H1066.5Z" fill="#0a80c4"/>
<path d="M1091.25,1960.2L1098.5,1972.7H1084.0Z" fill="#0a80c4"/>
<path d="M1316.75,1938.2L1324.0,1950.7H1309.5Z" fill="#0a80c4"/>
<circle cx="1074.25" cy="1961.45" r="5.2" fill="#fff" stroke="#0a8a1a" stroke-width="1.5"/><path d="M1074.25,1956.25A5.2,5.2 0 0 0 1074.25,1966.65Z" fill="#0a8a1a"/>
<rect x="1037.9" y="1975.8500000000001" width="9.2" height="9.2" fill="#fff" stroke="#808000" stroke-width="1.5"/><rect x="1037.9" y="1975.8500000000001" width="4.6" height="9.2" fill="#808000"/>
<path d="M1091.25,1982.7L1103.75,1975.45V1989.95Z" fill="#0ac8c0"/>
<path d="M1121.25,1978.2L1133.75,1970.95V1985.45Z" fill="#0ac8c0"/>
<path d="M1073.75,1984.45L1086.25,1977.2V1991.7Z" fill="#0ac8c0"/>
<path d="M1067.25,1978.2L1079.75,1970.95V1985.45Z" fill="#6a70ff"/>
<path d="M1083.75,1986.2L1091.0,1973.7H1076.5Z" fill="#6a70ff"/>
<path d="M1180,1973.95L1187.25,1961.45H1172.75Z" fill="#6a70ff"/>
<path d="M1063.75,1975.9L1069.85,1979.3V1986.1000000000001L1063.75,1989.5L1057.65,1986.1000000000001V1979.3Z" fill="#dd6aff"/>
<path d="M1218.75,1969.15L1224.85,1972.55V1979.3500000000001L1218.75,1982.75L1212.65,1979.3500000000001V1972.55Z" fill="#dd6aff"/>
<path d="M1247,1970.9L1253.1,1974.3V1981.1000000000001L1247,1984.5L1240.9,1981.1000000000001V1974.3Z" fill="#dd6aff"/>
<path d="M1316.75,1817.7L1322.85,1821.1V1827.9L1316.75,1831.3L1310.65,1827.9V1821.1Z" fill="#dd6aff"/>
<path d="M1314.75,1868.4L1320.85,1871.8V1878.6000000000001L1314.75,1882.0L1308.65,1878.6000000000001V1871.8Z" fill="#dd6aff"/>
<path d="M1359.75,1966.4L1365.85,1969.8V1976.6000000000001L1359.75,1980.0L1353.65,1976.6000000000001V1969.8Z" fill="#dd6aff"/>
<circle cx="1074.5" cy="1980.2" r="5.2" fill="#fff" stroke="#ee0a8a" stroke-width="1.5"/><path d="M1074.5,1975.0A5.2,5.2 0 0 1 1074.5,1985.4Z" fill="#ee0a8a"/>
<circle cx="1201.75" cy="1956.95" r="5.2" fill="#fff" stroke="#ee0a8a" stroke-width="1.5"/><path d="M1201.75,1951.75A5.2,5.2 0 0 1 1201.75,1962.15Z" fill="#ee0a8a"/>
<rect x="1119.65" y="1978.6000000000001" width="9.2" height="9.2" fill="#fff" stroke="#c09060" stroke-width="1.5"/><rect x="1119.65" y="1983.2" width="9.2" height="4.6" fill="#c09060"/>
<path d="M1180.5,1851.45L1186.75,1862.45H1174.25Z" fill="#fff" stroke="#00008b" stroke-width="1.6" stroke-linejoin="miter"/><path d="M1180.5,1851.45L1186.75,1862.45H1180.5Z" fill="#00008b"/>
<path d="M1185.75,1963.45L1192.0,1974.45H1179.5Z" fill="#fff" stroke="#00008b" stroke-width="1.6" stroke-linejoin="miter"/><path d="M1185.75,1963.45L1192.0,1974.45H1185.75Z" fill="#00008b"/>
<path d="M1204.25,1946.25L1209.75,1949.3500000000001V1955.55L1204.25,1958.65L1198.75,1955.55V1949.3500000000001Z" fill="#fff" stroke="#0aa0ff" stroke-width="1.6"/><path d="M1209.75,1952.45V1955.55L1204.25,1958.65L1198.75,1955.55V1952.45Z" fill="#0aa0ff"/>
<path d="M1220,1930.2L1226.25,1941.2H1213.75Z" fill="#fff" stroke="#d6c81a" stroke-width="1.6" stroke-linejoin="miter"/><path d="M1220,1930.2L1213.75,1941.2H1220Z" fill="#d6c81a"/>
<path d="M1265,1968.95L1272.5,1976.45L1265,1983.95L1257.5,1976.45Z" fill="#ff6a0a"/>
<path d="M1366,1976.6000000000001L1372.9,1983.7L1366,1990.8L1359.1,1983.7Z" fill="#fff" stroke="#6aa51a" stroke-width="1.6"/><path d="M1366,1976.6000000000001V1990.8L1359.1,1983.7Z" fill="#6aa51a"/>
<rect x="1395.5" y="1717.25" width="10.5" height="10.5" fill="#a4e634"/>
<rect x="1540.25" y="1971.2" width="10.5" height="10.5" fill="#a4e634"/>
<polygon points="1657.25,1933.90 1664.29,1939.01 1661.60,1947.29 1652.90,1947.29 1650.21,1939.01" fill="#f0b010"/>
<polygon points="1212.70,1488.50 1216.17,1498.33 1226.59,1498.59 1218.31,1504.92 1221.28,1514.91 1212.70,1509.00 1204.12,1514.91 1207.09,1504.92 1198.81,1498.59 1209.23,1498.33" fill="#c9000a" stroke="#c9000a" stroke-width="2.2" stroke-linejoin="round"/>
<text x="1242.5" y="1510.1" font-size="26" text-anchor="start" fill="#c9000a" font-weight="normal" font-family='"Liberation Sans", Arial, Helvetica, sans-serif' >This work</text>
<rect x="986.6" y="1442.4" width="690.9" height="555.0" fill="none" stroke="#231f20" stroke-width="1.1"/>
<line x1="986.6" y1="1997.4" x2="986.6" y2="2008.9" stroke="#231f20" stroke-width="1.1" />
<text x="986.6" y="2037.45" font-size="26" text-anchor="middle" fill="#000" font-weight="normal" font-family='"Liberation Sans", Arial, Helvetica, sans-serif' >0</text>
<line x1="1033.24" y1="1997.4" x2="1033.24" y2="2003.4" stroke="#231f20" stroke-width="1.1" />
<line x1="1079.88" y1="1997.4" x2="1079.88" y2="2008.9" stroke="#231f20" stroke-width="1.1" />
<text x="1079.9" y="2037.45" font-size="26" text-anchor="middle" fill="#000" font-weight="normal" font-family='"Liberation Sans", Arial, Helvetica, sans-serif' >250</text>
<line x1="1126.51" y1="1997.4" x2="1126.51" y2="2003.4" stroke="#231f20" stroke-width="1.1" />
<line x1="1173.15" y1="1997.4" x2="1173.15" y2="2008.9" stroke="#231f20" stroke-width="1.1" />
<text x="1173.2" y="2037.45" font-size="26" text-anchor="middle" fill="#000" font-weight="normal" font-family='"Liberation Sans", Arial, Helvetica, sans-serif' >500</text>
<line x1="1219.79" y1="1997.4" x2="1219.79" y2="2003.4" stroke="#231f20" stroke-width="1.1" />
<line x1="1266.42" y1="1997.4" x2="1266.42" y2="2008.9" stroke="#231f20" stroke-width="1.1" />
<text x="1266.4" y="2037.45" font-size="26" text-anchor="middle" fill="#000" font-weight="normal" font-family='"Liberation Sans", Arial, Helvetica, sans-serif' >750</text>
<line x1="1313.06" y1="1997.4" x2="1313.06" y2="2003.4" stroke="#231f20" stroke-width="1.1" />
<line x1="1359.7" y1="1997.4" x2="1359.7" y2="2008.9" stroke="#231f20" stroke-width="1.1" />
<text x="1359.7" y="2037.45" font-size="26" text-anchor="middle" fill="#000" font-weight="normal" font-family='"Liberation Sans", Arial, Helvetica, sans-serif' >1,000</text>
<line x1="1406.34" y1="1997.4" x2="1406.34" y2="2003.4" stroke="#231f20" stroke-width="1.1" />
<line x1="1452.97" y1="1997.4" x2="1452.97" y2="2008.9" stroke="#231f20" stroke-width="1.1" />
<text x="1453.0" y="2037.45" font-size="26" text-anchor="middle" fill="#000" font-weight="normal" font-family='"Liberation Sans", Arial, Helvetica, sans-serif' >1,250</text>
<line x1="1499.61" y1="1997.4" x2="1499.61" y2="2003.4" stroke="#231f20" stroke-width="1.1" />
<line x1="1546.25" y1="1997.4" x2="1546.25" y2="2008.9" stroke="#231f20" stroke-width="1.1" />
<text x="1546.2" y="2037.45" font-size="26" text-anchor="middle" fill="#000" font-weight="normal" font-family='"Liberation Sans", Arial, Helvetica, sans-serif' >1,500</text>
<line x1="1592.89" y1="1997.4" x2="1592.89" y2="2003.4" stroke="#231f20" stroke-width="1.1" />
<line x1="1639.53" y1="1997.4" x2="1639.53" y2="2008.9" stroke="#231f20" stroke-width="1.1" />
<text x="1639.5" y="2037.45" font-size="26" text-anchor="middle" fill="#000" font-weight="normal" font-family='"Liberation Sans", Arial, Helvetica, sans-serif' >1,750</text>
<line x1="975.1" y1="1983.6" x2="986.6" y2="1983.6" stroke="#231f20" stroke-width="1.1" />
<text x="965.7" y="1991.5" font-size="26" text-anchor="end" fill="#000" font-weight="normal" font-family='"Liberation Sans", Arial, Helvetica, sans-serif' >0</text>
<line x1="980.6" y1="1915.95" x2="986.6" y2="1915.95" stroke="#231f20" stroke-width="1.1" />
<line x1="975.1" y1="1848.3" x2="986.6" y2="1848.3" stroke="#231f20" stroke-width="1.1" />
<text x="965.7" y="1856.2" font-size="26" text-anchor="end" fill="#000" font-weight="normal" font-family='"Liberation Sans", Arial, Helvetica, sans-serif' >50</text>
<line x1="980.6" y1="1780.65" x2="986.6" y2="1780.65" stroke="#231f20" stroke-width="1.1" />
<line x1="975.1" y1="1713.0" x2="986.6" y2="1713.0" stroke="#231f20" stroke-width="1.1" />
<text x="965.7" y="1720.9" font-size="26" text-anchor="end" fill="#000" font-weight="normal" font-family='"Liberation Sans", Arial, Helvetica, sans-serif' >100</text>
<line x1="980.6" y1="1645.35" x2="986.6" y2="1645.35" stroke="#231f20" stroke-width="1.1" />
<line x1="975.1" y1="1577.7" x2="986.6" y2="1577.7" stroke="#231f20" stroke-width="1.1" />
<text x="965.7" y="1585.6" font-size="26" text-anchor="end" fill="#000" font-weight="normal" font-family='"Liberation Sans", Arial, Helvetica, sans-serif' >150</text>
<line x1="980.6" y1="1510.05" x2="986.6" y2="1510.05" stroke="#231f20" stroke-width="1.1" />
<line x1="975.1" y1="1442.4" x2="986.6" y2="1442.4" stroke="#231f20" stroke-width="1.1" />
<text x="965.7" y="1450.3" font-size="26" text-anchor="end" fill="#000" font-weight="normal" font-family='"Liberation Sans", Arial, Helvetica, sans-serif' >200</text>
<polygon points="1034.25,1555.80 1037.72,1565.63 1048.14,1565.89 1039.86,1572.22 1042.83,1582.21 1034.25,1576.30 1025.67,1582.21 1028.64,1572.22 1020.36,1565.89 1030.78,1565.63" fill="#c9000a" stroke="#c9000a" stroke-width="2.2" stroke-linejoin="round"/>
<text x="1058.2" y="1579" font-size="26" text-anchor="start" fill="#000" font-weight="normal" font-family='"Liberation Sans", Arial, Helvetica, sans-serif' ><tspan font-weight="bold">CC3</tspan><tspan font-family='"Liberation Serif", "DejaVu Serif", serif' font-weight="normal">α</tspan><tspan dx="2">-PAN</tspan></text>
<polygon points="1033.75,1592.70 1040.79,1597.81 1038.10,1606.09 1029.40,1606.09 1026.71,1597.81" fill="#f0b010"/>
<text x="1058.2" y="1608" font-size="26" text-anchor="start" fill="#000" font-weight="normal" font-family='"Liberation Sans", Arial, Helvetica, sans-serif' >MOF</text>
<path d="M1034,1621.25L1041.5,1628.75L1034,1636.25L1026.5,1628.75Z" fill="#ff6a0a"/>
<text x="1058.2" y="1637.25" font-size="26" text-anchor="start" fill="#000" font-weight="normal" font-family='"Liberation Sans", Arial, Helvetica, sans-serif' >MC</text>
<circle cx="1034" cy="1657.5" r="5.2" fill="#fff" stroke="#ee0a8a" stroke-width="1.5"/><path d="M1034,1652.3A5.2,5.2 0 0 1 1034,1662.7Z" fill="#ee0a8a"/>
<text x="1058.2" y="1666" font-size="26" text-anchor="start" fill="#000" font-weight="normal" font-family='"Liberation Sans", Arial, Helvetica, sans-serif' >NPs</text>
<circle cx="1034" cy="1686.75" r="5.9" fill="#f08030"/>
<text x="1058.2" y="1694.75" font-size="26" text-anchor="start" fill="#000" font-weight="normal" font-family='"Liberation Sans", Arial, Helvetica, sans-serif' >GO</text>
<path d="M1034,1710.0L1040.25,1721.0H1027.75Z" fill="#fff" stroke="#d6c81a" stroke-width="1.6" stroke-linejoin="miter"/><path d="M1034,1710.0L1027.75,1721.0H1034Z" fill="#d6c81a"/>
<text x="1058.2" y="1724" font-size="26" text-anchor="start" fill="#000" font-weight="normal" font-family='"Liberation Sans", Arial, Helvetica, sans-serif' >PTMSP</text>
<path d="M1034,1736.95L1040.1,1740.35V1747.15L1034,1750.55L1027.9,1747.15V1740.35Z" fill="#dd6aff"/>
<text x="1058.2" y="1753.5" font-size="26" text-anchor="start" fill="#000" font-weight="normal" font-family='"Liberation Sans", Arial, Helvetica, sans-serif' >Commercially</text>
<text x="1058.2" y="1784.75" font-size="26" text-anchor="start" fill="#000" font-weight="normal" font-family='"Liberation Sans", Arial, Helvetica, sans-serif' >available</text>
<path d="M1447.5,1775.6L1454.75,1788.1H1440.25Z" fill="#0a80c4"/>
<text x="1467.5" y="1790.05" font-size="26" text-anchor="start" fill="#000" font-weight="normal" font-family='"Liberation Sans", Arial, Helvetica, sans-serif' >PA</text>
<rect x="1442.25" y="1806.1" width="10.5" height="10.5" fill="#a4e634"/>
<text x="1467.5" y="1819.05" font-size="26" text-anchor="start" fill="#000" font-weight="normal" font-family='"Liberation Sans", Arial, Helvetica, sans-serif' >PEI</text>
<path d="M1440.25,1840.6L1452.75,1833.35V1847.85Z" fill="#0ac8c0"/>
<text x="1467.5" y="1848.3" font-size="26" text-anchor="start" fill="#000" font-weight="normal" font-family='"Liberation Sans", Arial, Helvetica, sans-serif' >PANI</text>
<path d="M1447.5,1877.35L1454.75,1864.85H1440.25Z" fill="#6a70ff"/>
<text x="1467.5" y="1877.05" font-size="26" text-anchor="start" fill="#000" font-weight="normal" font-family='"Liberation Sans", Arial, Helvetica, sans-serif' >PI</text>
<rect x="1442.9" y="1894.75" width="9.2" height="9.2" fill="#fff" stroke="#808000" stroke-width="1.5"/><rect x="1442.9" y="1894.75" width="4.6" height="9.2" fill="#808000"/>
<text x="1467.5" y="1906.3" font-size="26" text-anchor="start" fill="#000" font-weight="normal" font-family='"Liberation Sans", Arial, Helvetica, sans-serif' >PE</text>
<path d="M1560.5,1774.75L1567.4,1781.85L1560.5,1788.9499999999998L1553.6,1781.85Z" fill="#fff" stroke="#6aa51a" stroke-width="1.6"/><path d="M1560.5,1774.75V1788.9499999999998L1553.6,1781.85Z" fill="#6aa51a"/>
<text x="1581.75" y="1790.05" font-size="26" text-anchor="start" fill="#000" font-weight="normal" font-family='"Liberation Sans", Arial, Helvetica, sans-serif' >PEEK</text>
<rect x="1555.9" y="1806.75" width="9.2" height="9.2" fill="#fff" stroke="#c09060" stroke-width="1.5"/><rect x="1555.9" y="1811.35" width="9.2" height="4.6" fill="#c09060"/>
<text x="1581.75" y="1819.05" font-size="26" text-anchor="start" fill="#000" font-weight="normal" font-family='"Liberation Sans", Arial, Helvetica, sans-serif' >PEO</text>
<path d="M1560.5,1835.1L1566.75,1846.1H1554.25Z" fill="#fff" stroke="#00008b" stroke-width="1.6" stroke-linejoin="miter"/><path d="M1560.5,1835.1L1566.75,1846.1H1560.5Z" fill="#00008b"/>
<text x="1581.75" y="1848.3" font-size="26" text-anchor="start" fill="#000" font-weight="normal" font-family='"Liberation Sans", Arial, Helvetica, sans-serif' >PIM</text>
<path d="M1560.5,1863.8999999999999L1566.0,1867.0V1873.1999999999998L1560.5,1876.3L1555.0,1873.1999999999998V1867.0Z" fill="#fff" stroke="#0aa0ff" stroke-width="1.6"/><path d="M1566.0,1870.1V1873.1999999999998L1560.5,1876.3L1555.0,1873.1999999999998V1870.1Z" fill="#0aa0ff"/>
<text x="1581.75" y="1877.05" font-size="26" text-anchor="start" fill="#000" font-weight="normal" font-family='"Liberation Sans", Arial, Helvetica, sans-serif' >PIP</text>
<circle cx="1560.5" cy="1899.35" r="5.2" fill="#fff" stroke="#0a8a1a" stroke-width="1.5"/><path d="M1560.5,1894.1499999999999A5.2,5.2 0 0 0 1560.5,1904.55Z" fill="#0a8a1a"/>
<text x="1581.75" y="1906.3" font-size="26" text-anchor="start" fill="#000" font-weight="normal" font-family='"Liberation Sans", Arial, Helvetica, sans-serif' >PAR</text>
<text x="1421.5" y="1569.1" font-size="26" text-anchor="start" fill="#000" font-weight="normal" font-family='"Liberation Sans", Arial, Helvetica, sans-serif' >Upper bound</text>
<text transform="translate(895.5,1721) rotate(-90)" font-size="26" text-anchor="middle" fill="#000" font-family='"Liberation Sans", Arial, Helvetica, sans-serif' >Acetone permeance (l m<tspan dy="-10" font-size="17">−2</tspan><tspan dy="10"> h</tspan><tspan dy="-10" font-size="17">−1</tspan><tspan dy="10"> bar</tspan><tspan dy="-10" font-size="17">−1</tspan><tspan dy="10">)</tspan></text>
<text x="1331.2" y="2083.7" font-size="26" text-anchor="middle" fill="#000" font-weight="normal" font-family='"Liberation Sans", Arial, Helvetica, sans-serif' >Molecular weight cut-off (g mol<tspan dy="-10" font-size="17">−1</tspan><tspan dy="10">)</tspan></text>
<text transform="translate(860.2,1440.0) scale(0.88,1)" font-size="31" font-weight="bold" stroke="#000" stroke-width="0.7" font-family='"Liberation Sans", Arial, Helvetica, sans-serif'>f</text>
</g>
</svg>
</body></html>
